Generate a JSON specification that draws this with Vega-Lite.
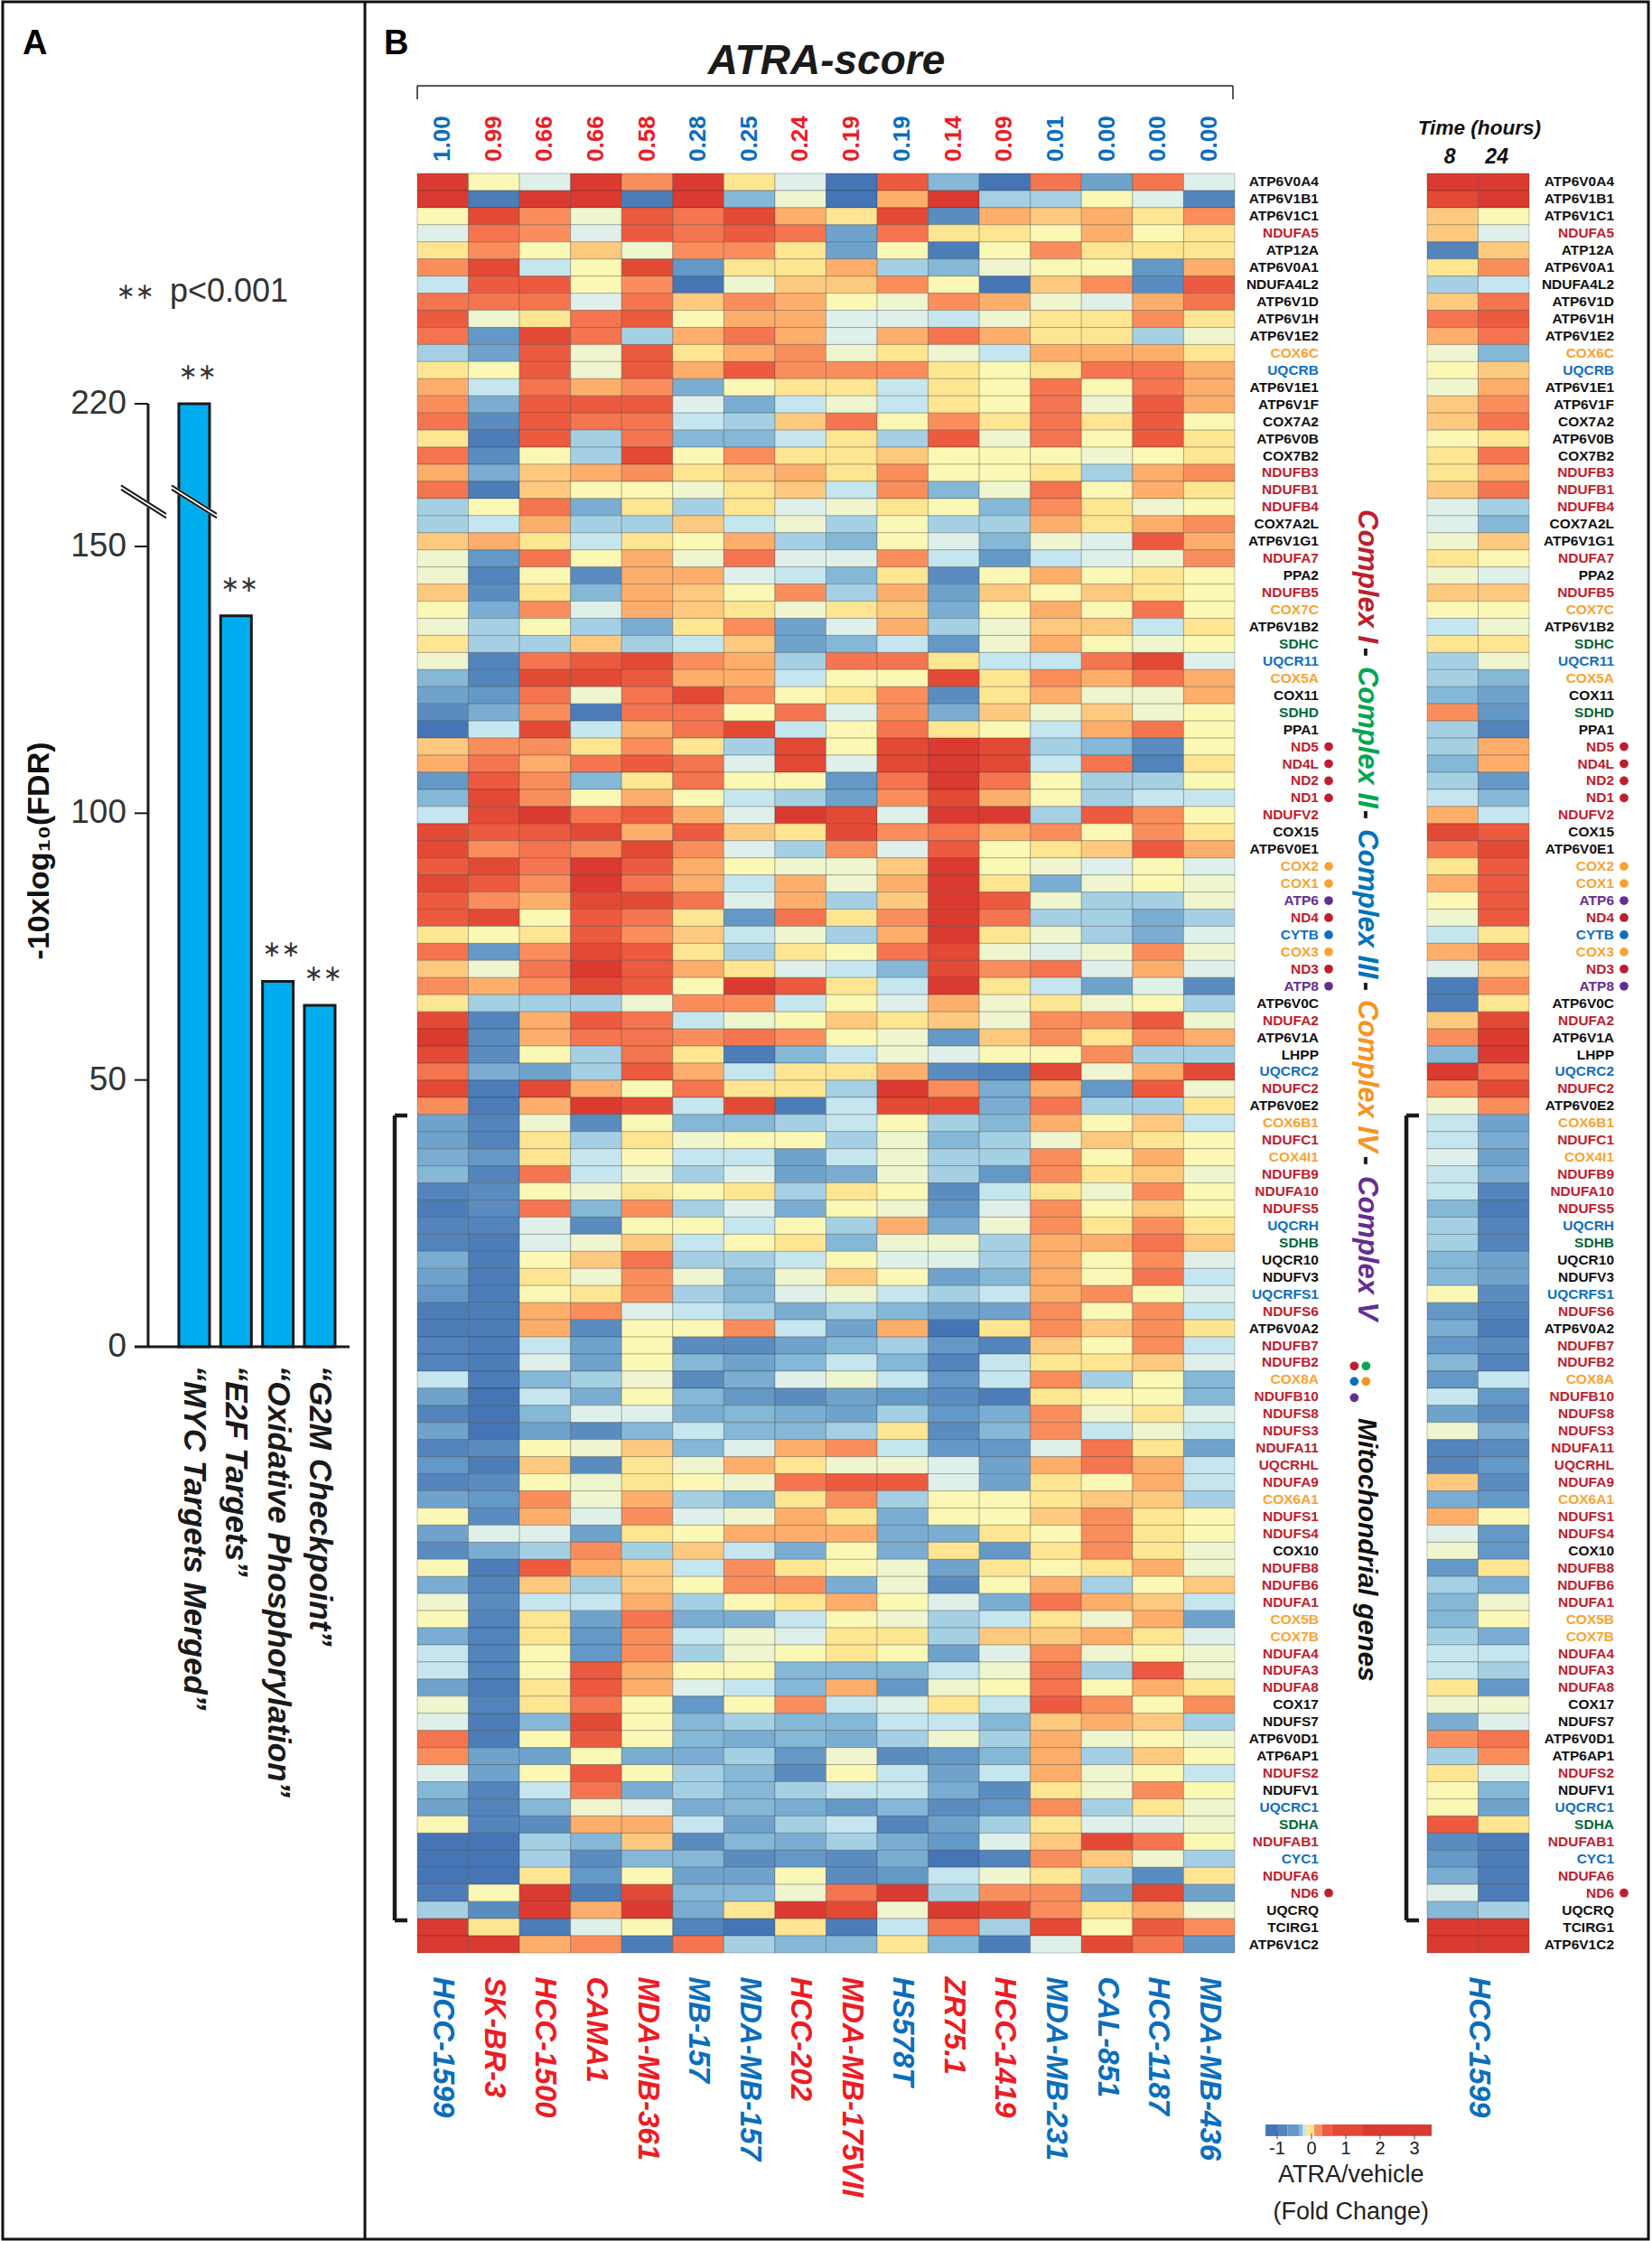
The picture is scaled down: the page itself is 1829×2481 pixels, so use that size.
{"$schema":"https://vega.github.io/schema/vega-lite/v6.json","width":1829,"height":2481,"autosize":{"type":"fit","contains":"padding"},"padding":0,"background":"white","config":{"view":{"stroke":null},"axis":{"disable":true},"legend":{"disable":true},"text":{"font":"Liberation Sans"}},
"resolve":{"scale":{"x":"independent","y":"independent","color":"independent"}},
"data":{"values":[{"one":1}]},
"datasets":{
"heat":[
{"r":1,"c":1,"v":30},{"r":1,"c":2,"v":0},{"r":1,"c":3,"v":-2},{"r":1,"c":4,"v":30},{"r":1,"c":5,"v":4},{"r":1,"c":6,"v":30},{"r":1,"c":7,"v":1},{"r":1,"c":8,"v":-2},{"r":1,"c":9,"v":-12},{"r":1,"c":10,"v":7},{"r":1,"c":11,"v":-5},{"r":1,"c":12,"v":-12},{"r":1,"c":13,"v":5},{"r":1,"c":14,"v":-7},{"r":1,"c":15,"v":5},{"r":1,"c":16,"v":-2},
{"r":2,"c":1,"v":30},{"r":2,"c":2,"v":-11},{"r":2,"c":3,"v":30},{"r":2,"c":4,"v":30},{"r":2,"c":5,"v":-11},{"r":2,"c":6,"v":30},{"r":2,"c":7,"v":-5},{"r":2,"c":8,"v":-1},{"r":2,"c":9,"v":-12},{"r":2,"c":10,"v":3},{"r":2,"c":11,"v":30},{"r":2,"c":12,"v":-4},{"r":2,"c":13,"v":-4},{"r":2,"c":14,"v":0},{"r":2,"c":15,"v":-2},{"r":2,"c":16,"v":-10},
{"r":3,"c":1,"v":0},{"r":3,"c":2,"v":10},{"r":3,"c":3,"v":4},{"r":3,"c":4,"v":-1},{"r":3,"c":5,"v":7},{"r":3,"c":6,"v":5},{"r":3,"c":7,"v":10},{"r":3,"c":8,"v":3},{"r":3,"c":9,"v":1},{"r":3,"c":10,"v":10},{"r":3,"c":11,"v":-9},{"r":3,"c":12,"v":3},{"r":3,"c":13,"v":2},{"r":3,"c":14,"v":3},{"r":3,"c":15,"v":1},{"r":3,"c":16,"v":4},
{"r":4,"c":1,"v":-2},{"r":4,"c":2,"v":5},{"r":4,"c":3,"v":4},{"r":4,"c":4,"v":-2},{"r":4,"c":5,"v":7},{"r":4,"c":6,"v":5},{"r":4,"c":7,"v":7},{"r":4,"c":8,"v":5},{"r":4,"c":9,"v":-7},{"r":4,"c":10,"v":5},{"r":4,"c":11,"v":1},{"r":4,"c":12,"v":1},{"r":4,"c":13,"v":0},{"r":4,"c":14,"v":3},{"r":4,"c":15,"v":0},{"r":4,"c":16,"v":1},
{"r":5,"c":1,"v":1},{"r":5,"c":2,"v":4},{"r":5,"c":3,"v":0},{"r":5,"c":4,"v":2},{"r":5,"c":5,"v":-1},{"r":5,"c":6,"v":4},{"r":5,"c":7,"v":4},{"r":5,"c":8,"v":1},{"r":5,"c":9,"v":-7},{"r":5,"c":10,"v":0},{"r":5,"c":11,"v":-11},{"r":5,"c":12,"v":0},{"r":5,"c":13,"v":4},{"r":5,"c":14,"v":1},{"r":5,"c":15,"v":1},{"r":5,"c":16,"v":1},
{"r":6,"c":1,"v":4},{"r":6,"c":2,"v":10},{"r":6,"c":3,"v":-3},{"r":6,"c":4,"v":0},{"r":6,"c":5,"v":10},{"r":6,"c":6,"v":-8},{"r":6,"c":7,"v":1},{"r":6,"c":8,"v":1},{"r":6,"c":9,"v":3},{"r":6,"c":10,"v":-4},{"r":6,"c":11,"v":-5},{"r":6,"c":12,"v":-1},{"r":6,"c":13,"v":0},{"r":6,"c":14,"v":0},{"r":6,"c":15,"v":-8},{"r":6,"c":16,"v":3},
{"r":7,"c":1,"v":-3},{"r":7,"c":2,"v":7},{"r":7,"c":3,"v":7},{"r":7,"c":4,"v":0},{"r":7,"c":5,"v":4},{"r":7,"c":6,"v":-12},{"r":7,"c":7,"v":-1},{"r":7,"c":8,"v":2},{"r":7,"c":9,"v":2},{"r":7,"c":10,"v":4},{"r":7,"c":11,"v":0},{"r":7,"c":12,"v":-12},{"r":7,"c":13,"v":2},{"r":7,"c":14,"v":4},{"r":7,"c":15,"v":-9},{"r":7,"c":16,"v":7},
{"r":8,"c":1,"v":5},{"r":8,"c":2,"v":5},{"r":8,"c":3,"v":5},{"r":8,"c":4,"v":-2},{"r":8,"c":5,"v":5},{"r":8,"c":6,"v":2},{"r":8,"c":7,"v":4},{"r":8,"c":8,"v":3},{"r":8,"c":9,"v":0},{"r":8,"c":10,"v":-1},{"r":8,"c":11,"v":4},{"r":8,"c":12,"v":3},{"r":8,"c":13,"v":-1},{"r":8,"c":14,"v":-2},{"r":8,"c":15,"v":3},{"r":8,"c":16,"v":5},
{"r":9,"c":1,"v":7},{"r":9,"c":2,"v":-1},{"r":9,"c":3,"v":1},{"r":9,"c":4,"v":5},{"r":9,"c":5,"v":7},{"r":9,"c":6,"v":0},{"r":9,"c":7,"v":3},{"r":9,"c":8,"v":3},{"r":9,"c":9,"v":-2},{"r":9,"c":10,"v":-2},{"r":9,"c":11,"v":-3},{"r":9,"c":12,"v":-1},{"r":9,"c":13,"v":1},{"r":9,"c":14,"v":1},{"r":9,"c":15,"v":4},{"r":9,"c":16,"v":1},
{"r":10,"c":1,"v":5},{"r":10,"c":2,"v":-8},{"r":10,"c":3,"v":10},{"r":10,"c":4,"v":5},{"r":10,"c":5,"v":-4},{"r":10,"c":6,"v":3},{"r":10,"c":7,"v":5},{"r":10,"c":8,"v":3},{"r":10,"c":9,"v":-2},{"r":10,"c":10,"v":3},{"r":10,"c":11,"v":5},{"r":10,"c":12,"v":3},{"r":10,"c":13,"v":1},{"r":10,"c":14,"v":1},{"r":10,"c":15,"v":-4},{"r":10,"c":16,"v":-1},
{"r":11,"c":1,"v":-4},{"r":11,"c":2,"v":-7},{"r":11,"c":3,"v":7},{"r":11,"c":4,"v":-1},{"r":11,"c":5,"v":7},{"r":11,"c":6,"v":1},{"r":11,"c":7,"v":3},{"r":11,"c":8,"v":4},{"r":11,"c":9,"v":-1},{"r":11,"c":10,"v":1},{"r":11,"c":11,"v":-1},{"r":11,"c":12,"v":-3},{"r":11,"c":13,"v":3},{"r":11,"c":14,"v":3},{"r":11,"c":15,"v":3},{"r":11,"c":16,"v":1},
{"r":12,"c":1,"v":1},{"r":12,"c":2,"v":0},{"r":12,"c":3,"v":7},{"r":12,"c":4,"v":-1},{"r":12,"c":5,"v":7},{"r":12,"c":6,"v":3},{"r":12,"c":7,"v":7},{"r":12,"c":8,"v":4},{"r":12,"c":9,"v":4},{"r":12,"c":10,"v":4},{"r":12,"c":11,"v":1},{"r":12,"c":12,"v":0},{"r":12,"c":13,"v":1},{"r":12,"c":14,"v":5},{"r":12,"c":15,"v":5},{"r":12,"c":16,"v":3},
{"r":13,"c":1,"v":3},{"r":13,"c":2,"v":-3},{"r":13,"c":3,"v":5},{"r":13,"c":4,"v":3},{"r":13,"c":5,"v":4},{"r":13,"c":6,"v":-6},{"r":13,"c":7,"v":0},{"r":13,"c":8,"v":1},{"r":13,"c":9,"v":1},{"r":13,"c":10,"v":-3},{"r":13,"c":11,"v":1},{"r":13,"c":12,"v":0},{"r":13,"c":13,"v":5},{"r":13,"c":14,"v":0},{"r":13,"c":15,"v":5},{"r":13,"c":16,"v":3},
{"r":14,"c":1,"v":4},{"r":14,"c":2,"v":-6},{"r":14,"c":3,"v":7},{"r":14,"c":4,"v":7},{"r":14,"c":5,"v":7},{"r":14,"c":6,"v":-2},{"r":14,"c":7,"v":-6},{"r":14,"c":8,"v":-3},{"r":14,"c":9,"v":-1},{"r":14,"c":10,"v":-3},{"r":14,"c":11,"v":1},{"r":14,"c":12,"v":0},{"r":14,"c":13,"v":5},{"r":14,"c":14,"v":-1},{"r":14,"c":15,"v":7},{"r":14,"c":16,"v":3},
{"r":15,"c":1,"v":5},{"r":15,"c":2,"v":-9},{"r":15,"c":3,"v":7},{"r":15,"c":4,"v":5},{"r":15,"c":5,"v":5},{"r":15,"c":6,"v":-3},{"r":15,"c":7,"v":-4},{"r":15,"c":8,"v":2},{"r":15,"c":9,"v":5},{"r":15,"c":10,"v":0},{"r":15,"c":11,"v":4},{"r":15,"c":12,"v":1},{"r":15,"c":13,"v":5},{"r":15,"c":14,"v":1},{"r":15,"c":15,"v":7},{"r":15,"c":16,"v":0},
{"r":16,"c":1,"v":1},{"r":16,"c":2,"v":-11},{"r":16,"c":3,"v":7},{"r":16,"c":4,"v":-4},{"r":16,"c":5,"v":5},{"r":16,"c":6,"v":-5},{"r":16,"c":7,"v":-5},{"r":16,"c":8,"v":-3},{"r":16,"c":9,"v":1},{"r":16,"c":10,"v":-4},{"r":16,"c":11,"v":7},{"r":16,"c":12,"v":-1},{"r":16,"c":13,"v":5},{"r":16,"c":14,"v":0},{"r":16,"c":15,"v":7},{"r":16,"c":16,"v":1},
{"r":17,"c":1,"v":5},{"r":17,"c":2,"v":-9},{"r":17,"c":3,"v":0},{"r":17,"c":4,"v":-4},{"r":17,"c":5,"v":10},{"r":17,"c":6,"v":0},{"r":17,"c":7,"v":4},{"r":17,"c":8,"v":1},{"r":17,"c":9,"v":1},{"r":17,"c":10,"v":2},{"r":17,"c":11,"v":0},{"r":17,"c":12,"v":0},{"r":17,"c":13,"v":0},{"r":17,"c":14,"v":-1},{"r":17,"c":15,"v":0},{"r":17,"c":16,"v":1},
{"r":18,"c":1,"v":3},{"r":18,"c":2,"v":-6},{"r":18,"c":3,"v":2},{"r":18,"c":4,"v":3},{"r":18,"c":5,"v":4},{"r":18,"c":6,"v":1},{"r":18,"c":7,"v":2},{"r":18,"c":8,"v":3},{"r":18,"c":9,"v":1},{"r":18,"c":10,"v":4},{"r":18,"c":11,"v":0},{"r":18,"c":12,"v":0},{"r":18,"c":13,"v":1},{"r":18,"c":14,"v":-4},{"r":18,"c":15,"v":3},{"r":18,"c":16,"v":4},
{"r":19,"c":1,"v":5},{"r":19,"c":2,"v":-11},{"r":19,"c":3,"v":2},{"r":19,"c":4,"v":0},{"r":19,"c":5,"v":0},{"r":19,"c":6,"v":-1},{"r":19,"c":7,"v":1},{"r":19,"c":8,"v":2},{"r":19,"c":9,"v":-3},{"r":19,"c":10,"v":4},{"r":19,"c":11,"v":-5},{"r":19,"c":12,"v":-1},{"r":19,"c":13,"v":5},{"r":19,"c":14,"v":0},{"r":19,"c":15,"v":3},{"r":19,"c":16,"v":1},
{"r":20,"c":1,"v":-4},{"r":20,"c":2,"v":0},{"r":20,"c":3,"v":5},{"r":20,"c":4,"v":-6},{"r":20,"c":5,"v":1},{"r":20,"c":6,"v":-4},{"r":20,"c":7,"v":1},{"r":20,"c":8,"v":-2},{"r":20,"c":9,"v":-1},{"r":20,"c":10,"v":1},{"r":20,"c":11,"v":0},{"r":20,"c":12,"v":-5},{"r":20,"c":13,"v":4},{"r":20,"c":14,"v":1},{"r":20,"c":15,"v":-1},{"r":20,"c":16,"v":0},
{"r":21,"c":1,"v":-4},{"r":21,"c":2,"v":-3},{"r":21,"c":3,"v":3},{"r":21,"c":4,"v":-4},{"r":21,"c":5,"v":-4},{"r":21,"c":6,"v":2},{"r":21,"c":7,"v":-3},{"r":21,"c":8,"v":-1},{"r":21,"c":9,"v":-4},{"r":21,"c":10,"v":0},{"r":21,"c":11,"v":-4},{"r":21,"c":12,"v":-4},{"r":21,"c":13,"v":3},{"r":21,"c":14,"v":1},{"r":21,"c":15,"v":3},{"r":21,"c":16,"v":4},
{"r":22,"c":1,"v":2},{"r":22,"c":2,"v":3},{"r":22,"c":3,"v":1},{"r":22,"c":4,"v":-3},{"r":22,"c":5,"v":1},{"r":22,"c":6,"v":0},{"r":22,"c":7,"v":3},{"r":22,"c":8,"v":-4},{"r":22,"c":9,"v":-5},{"r":22,"c":10,"v":0},{"r":22,"c":11,"v":-2},{"r":22,"c":12,"v":-5},{"r":22,"c":13,"v":-1},{"r":22,"c":14,"v":-2},{"r":22,"c":15,"v":7},{"r":22,"c":16,"v":3},
{"r":23,"c":1,"v":-1},{"r":23,"c":2,"v":-8},{"r":23,"c":3,"v":5},{"r":23,"c":4,"v":0},{"r":23,"c":5,"v":3},{"r":23,"c":6,"v":-1},{"r":23,"c":7,"v":5},{"r":23,"c":8,"v":-2},{"r":23,"c":9,"v":-2},{"r":23,"c":10,"v":4},{"r":23,"c":11,"v":-3},{"r":23,"c":12,"v":-8},{"r":23,"c":13,"v":-3},{"r":23,"c":14,"v":-2},{"r":23,"c":15,"v":-1},{"r":23,"c":16,"v":4},
{"r":24,"c":1,"v":-1},{"r":24,"c":2,"v":-10},{"r":24,"c":3,"v":0},{"r":24,"c":4,"v":-9},{"r":24,"c":5,"v":3},{"r":24,"c":6,"v":3},{"r":24,"c":7,"v":-2},{"r":24,"c":8,"v":-3},{"r":24,"c":9,"v":-5},{"r":24,"c":10,"v":1},{"r":24,"c":11,"v":-9},{"r":24,"c":12,"v":0},{"r":24,"c":13,"v":3},{"r":24,"c":14,"v":0},{"r":24,"c":15,"v":1},{"r":24,"c":16,"v":0},
{"r":25,"c":1,"v":2},{"r":25,"c":2,"v":-9},{"r":25,"c":3,"v":1},{"r":25,"c":4,"v":-5},{"r":25,"c":5,"v":3},{"r":25,"c":6,"v":2},{"r":25,"c":7,"v":0},{"r":25,"c":8,"v":4},{"r":25,"c":9,"v":-4},{"r":25,"c":10,"v":3},{"r":25,"c":11,"v":-7},{"r":25,"c":12,"v":2},{"r":25,"c":13,"v":0},{"r":25,"c":14,"v":2},{"r":25,"c":15,"v":1},{"r":25,"c":16,"v":0},
{"r":26,"c":1,"v":0},{"r":26,"c":2,"v":-6},{"r":26,"c":3,"v":4},{"r":26,"c":4,"v":-2},{"r":26,"c":5,"v":3},{"r":26,"c":6,"v":2},{"r":26,"c":7,"v":1},{"r":26,"c":8,"v":-1},{"r":26,"c":9,"v":1},{"r":26,"c":10,"v":2},{"r":26,"c":11,"v":-6},{"r":26,"c":12,"v":0},{"r":26,"c":13,"v":3},{"r":26,"c":14,"v":0},{"r":26,"c":15,"v":5},{"r":26,"c":16,"v":0},
{"r":27,"c":1,"v":-1},{"r":27,"c":2,"v":-4},{"r":27,"c":3,"v":0},{"r":27,"c":4,"v":-4},{"r":27,"c":5,"v":-6},{"r":27,"c":6,"v":1},{"r":27,"c":7,"v":4},{"r":27,"c":8,"v":-7},{"r":27,"c":9,"v":-2},{"r":27,"c":10,"v":3},{"r":27,"c":11,"v":-4},{"r":27,"c":12,"v":-1},{"r":27,"c":13,"v":2},{"r":27,"c":14,"v":2},{"r":27,"c":15,"v":-3},{"r":27,"c":16,"v":1},
{"r":28,"c":1,"v":1},{"r":28,"c":2,"v":-4},{"r":28,"c":3,"v":-4},{"r":28,"c":4,"v":2},{"r":28,"c":5,"v":-4},{"r":28,"c":6,"v":-3},{"r":28,"c":7,"v":2},{"r":28,"c":8,"v":-7},{"r":28,"c":9,"v":-5},{"r":28,"c":10,"v":-3},{"r":28,"c":11,"v":-8},{"r":28,"c":12,"v":-1},{"r":28,"c":13,"v":3},{"r":28,"c":14,"v":0},{"r":28,"c":15,"v":-1},{"r":28,"c":16,"v":0},
{"r":29,"c":1,"v":-1},{"r":29,"c":2,"v":-10},{"r":29,"c":3,"v":5},{"r":29,"c":4,"v":7},{"r":29,"c":5,"v":10},{"r":29,"c":6,"v":4},{"r":29,"c":7,"v":3},{"r":29,"c":8,"v":-4},{"r":29,"c":9,"v":5},{"r":29,"c":10,"v":5},{"r":29,"c":11,"v":1},{"r":29,"c":12,"v":-3},{"r":29,"c":13,"v":-3},{"r":29,"c":14,"v":5},{"r":29,"c":15,"v":10},{"r":29,"c":16,"v":-2},
{"r":30,"c":1,"v":-5},{"r":30,"c":2,"v":-10},{"r":30,"c":3,"v":10},{"r":30,"c":4,"v":10},{"r":30,"c":5,"v":7},{"r":30,"c":6,"v":3},{"r":30,"c":7,"v":3},{"r":30,"c":8,"v":-3},{"r":30,"c":9,"v":0},{"r":30,"c":10,"v":0},{"r":30,"c":11,"v":10},{"r":30,"c":12,"v":1},{"r":30,"c":13,"v":4},{"r":30,"c":14,"v":3},{"r":30,"c":15,"v":5},{"r":30,"c":16,"v":3},
{"r":31,"c":1,"v":-7},{"r":31,"c":2,"v":-8},{"r":31,"c":3,"v":5},{"r":31,"c":4,"v":-1},{"r":31,"c":5,"v":5},{"r":31,"c":6,"v":10},{"r":31,"c":7,"v":4},{"r":31,"c":8,"v":0},{"r":31,"c":9,"v":1},{"r":31,"c":10,"v":4},{"r":31,"c":11,"v":-9},{"r":31,"c":12,"v":1},{"r":31,"c":13,"v":3},{"r":31,"c":14,"v":-1},{"r":31,"c":15,"v":-1},{"r":31,"c":16,"v":3},
{"r":32,"c":1,"v":-9},{"r":32,"c":2,"v":-6},{"r":32,"c":3,"v":4},{"r":32,"c":4,"v":-11},{"r":32,"c":5,"v":5},{"r":32,"c":6,"v":5},{"r":32,"c":7,"v":0},{"r":32,"c":8,"v":5},{"r":32,"c":9,"v":-2},{"r":32,"c":10,"v":4},{"r":32,"c":11,"v":-6},{"r":32,"c":12,"v":2},{"r":32,"c":13,"v":-1},{"r":32,"c":14,"v":2},{"r":32,"c":15,"v":-1},{"r":32,"c":16,"v":0},
{"r":33,"c":1,"v":-12},{"r":33,"c":2,"v":-3},{"r":33,"c":3,"v":10},{"r":33,"c":4,"v":-3},{"r":33,"c":5,"v":3},{"r":33,"c":6,"v":5},{"r":33,"c":7,"v":10},{"r":33,"c":8,"v":-3},{"r":33,"c":9,"v":0},{"r":33,"c":10,"v":5},{"r":33,"c":11,"v":1},{"r":33,"c":12,"v":0},{"r":33,"c":13,"v":-3},{"r":33,"c":14,"v":3},{"r":33,"c":15,"v":5},{"r":33,"c":16,"v":0},
{"r":34,"c":1,"v":2},{"r":34,"c":2,"v":4},{"r":34,"c":3,"v":4},{"r":34,"c":4,"v":1},{"r":34,"c":5,"v":4},{"r":34,"c":6,"v":1},{"r":34,"c":7,"v":-4},{"r":34,"c":8,"v":10},{"r":34,"c":9,"v":0},{"r":34,"c":10,"v":10},{"r":34,"c":11,"v":30},{"r":34,"c":12,"v":10},{"r":34,"c":13,"v":-4},{"r":34,"c":14,"v":-5},{"r":34,"c":15,"v":-9},{"r":34,"c":16,"v":0},
{"r":35,"c":1,"v":3},{"r":35,"c":2,"v":5},{"r":35,"c":3,"v":3},{"r":35,"c":4,"v":5},{"r":35,"c":5,"v":7},{"r":35,"c":6,"v":5},{"r":35,"c":7,"v":-2},{"r":35,"c":8,"v":10},{"r":35,"c":9,"v":-2},{"r":35,"c":10,"v":10},{"r":35,"c":11,"v":30},{"r":35,"c":12,"v":10},{"r":35,"c":13,"v":-3},{"r":35,"c":14,"v":5},{"r":35,"c":15,"v":-10},{"r":35,"c":16,"v":1},
{"r":36,"c":1,"v":-8},{"r":36,"c":2,"v":7},{"r":36,"c":3,"v":4},{"r":36,"c":4,"v":-5},{"r":36,"c":5,"v":1},{"r":36,"c":6,"v":5},{"r":36,"c":7,"v":0},{"r":36,"c":8,"v":0},{"r":36,"c":9,"v":-8},{"r":36,"c":10,"v":5},{"r":36,"c":11,"v":30},{"r":36,"c":12,"v":5},{"r":36,"c":13,"v":0},{"r":36,"c":14,"v":-4},{"r":36,"c":15,"v":-4},{"r":36,"c":16,"v":0},
{"r":37,"c":1,"v":-5},{"r":37,"c":2,"v":10},{"r":37,"c":3,"v":4},{"r":37,"c":4,"v":0},{"r":37,"c":5,"v":3},{"r":37,"c":6,"v":0},{"r":37,"c":7,"v":-3},{"r":37,"c":8,"v":-4},{"r":37,"c":9,"v":-7},{"r":37,"c":10,"v":4},{"r":37,"c":11,"v":10},{"r":37,"c":12,"v":3},{"r":37,"c":13,"v":0},{"r":37,"c":14,"v":-4},{"r":37,"c":15,"v":-3},{"r":37,"c":16,"v":-3},
{"r":38,"c":1,"v":-3},{"r":38,"c":2,"v":10},{"r":38,"c":3,"v":30},{"r":38,"c":4,"v":5},{"r":38,"c":5,"v":7},{"r":38,"c":6,"v":3},{"r":38,"c":7,"v":-2},{"r":38,"c":8,"v":30},{"r":38,"c":9,"v":10},{"r":38,"c":10,"v":-2},{"r":38,"c":11,"v":30},{"r":38,"c":12,"v":30},{"r":38,"c":13,"v":-4},{"r":38,"c":14,"v":7},{"r":38,"c":15,"v":4},{"r":38,"c":16,"v":0},
{"r":39,"c":1,"v":10},{"r":39,"c":2,"v":7},{"r":39,"c":3,"v":7},{"r":39,"c":4,"v":10},{"r":39,"c":5,"v":3},{"r":39,"c":6,"v":7},{"r":39,"c":7,"v":2},{"r":39,"c":8,"v":1},{"r":39,"c":9,"v":10},{"r":39,"c":10,"v":4},{"r":39,"c":11,"v":5},{"r":39,"c":12,"v":3},{"r":39,"c":13,"v":4},{"r":39,"c":14,"v":0},{"r":39,"c":15,"v":4},{"r":39,"c":16,"v":1},
{"r":40,"c":1,"v":10},{"r":40,"c":2,"v":4},{"r":40,"c":3,"v":5},{"r":40,"c":4,"v":4},{"r":40,"c":5,"v":10},{"r":40,"c":6,"v":4},{"r":40,"c":7,"v":-2},{"r":40,"c":8,"v":-4},{"r":40,"c":9,"v":4},{"r":40,"c":10,"v":-2},{"r":40,"c":11,"v":7},{"r":40,"c":12,"v":0},{"r":40,"c":13,"v":1},{"r":40,"c":14,"v":2},{"r":40,"c":15,"v":7},{"r":40,"c":16,"v":3},
{"r":41,"c":1,"v":7},{"r":41,"c":2,"v":10},{"r":41,"c":3,"v":5},{"r":41,"c":4,"v":30},{"r":41,"c":5,"v":7},{"r":41,"c":6,"v":3},{"r":41,"c":7,"v":0},{"r":41,"c":8,"v":-1},{"r":41,"c":9,"v":-1},{"r":41,"c":10,"v":2},{"r":41,"c":11,"v":30},{"r":41,"c":12,"v":0},{"r":41,"c":13,"v":-1},{"r":41,"c":14,"v":-2},{"r":41,"c":15,"v":0},{"r":41,"c":16,"v":-2},
{"r":42,"c":1,"v":10},{"r":42,"c":2,"v":7},{"r":42,"c":3,"v":4},{"r":42,"c":4,"v":30},{"r":42,"c":5,"v":5},{"r":42,"c":6,"v":3},{"r":42,"c":7,"v":-3},{"r":42,"c":8,"v":3},{"r":42,"c":9,"v":-1},{"r":42,"c":10,"v":3},{"r":42,"c":11,"v":30},{"r":42,"c":12,"v":1},{"r":42,"c":13,"v":-6},{"r":42,"c":14,"v":-1},{"r":42,"c":15,"v":0},{"r":42,"c":16,"v":-1},
{"r":43,"c":1,"v":7},{"r":43,"c":2,"v":4},{"r":43,"c":3,"v":3},{"r":43,"c":4,"v":10},{"r":43,"c":5,"v":10},{"r":43,"c":6,"v":5},{"r":43,"c":7,"v":-2},{"r":43,"c":8,"v":3},{"r":43,"c":9,"v":-4},{"r":43,"c":10,"v":2},{"r":43,"c":11,"v":30},{"r":43,"c":12,"v":7},{"r":43,"c":13,"v":-1},{"r":43,"c":14,"v":-4},{"r":43,"c":15,"v":-4},{"r":43,"c":16,"v":-1},
{"r":44,"c":1,"v":7},{"r":44,"c":2,"v":10},{"r":44,"c":3,"v":0},{"r":44,"c":4,"v":7},{"r":44,"c":5,"v":5},{"r":44,"c":6,"v":1},{"r":44,"c":7,"v":-8},{"r":44,"c":8,"v":5},{"r":44,"c":9,"v":1},{"r":44,"c":10,"v":4},{"r":44,"c":11,"v":30},{"r":44,"c":12,"v":5},{"r":44,"c":13,"v":-4},{"r":44,"c":14,"v":-4},{"r":44,"c":15,"v":-6},{"r":44,"c":16,"v":-4},
{"r":45,"c":1,"v":1},{"r":45,"c":2,"v":0},{"r":45,"c":3,"v":1},{"r":45,"c":4,"v":7},{"r":45,"c":5,"v":4},{"r":45,"c":6,"v":2},{"r":45,"c":7,"v":-3},{"r":45,"c":8,"v":-1},{"r":45,"c":9,"v":-4},{"r":45,"c":10,"v":3},{"r":45,"c":11,"v":30},{"r":45,"c":12,"v":1},{"r":45,"c":13,"v":-1},{"r":45,"c":14,"v":-4},{"r":45,"c":15,"v":-6},{"r":45,"c":16,"v":-2},
{"r":46,"c":1,"v":5},{"r":46,"c":2,"v":-8},{"r":46,"c":3,"v":4},{"r":46,"c":4,"v":10},{"r":46,"c":5,"v":7},{"r":46,"c":6,"v":1},{"r":46,"c":7,"v":-4},{"r":46,"c":8,"v":1},{"r":46,"c":9,"v":0},{"r":46,"c":10,"v":5},{"r":46,"c":11,"v":10},{"r":46,"c":12,"v":-1},{"r":46,"c":13,"v":-2},{"r":46,"c":14,"v":-1},{"r":46,"c":15,"v":4},{"r":46,"c":16,"v":-1},
{"r":47,"c":1,"v":2},{"r":47,"c":2,"v":-1},{"r":47,"c":3,"v":5},{"r":47,"c":4,"v":30},{"r":47,"c":5,"v":7},{"r":47,"c":6,"v":3},{"r":47,"c":7,"v":1},{"r":47,"c":8,"v":-2},{"r":47,"c":9,"v":-3},{"r":47,"c":10,"v":-5},{"r":47,"c":11,"v":10},{"r":47,"c":12,"v":4},{"r":47,"c":13,"v":5},{"r":47,"c":14,"v":-2},{"r":47,"c":15,"v":3},{"r":47,"c":16,"v":-2},
{"r":48,"c":1,"v":4},{"r":48,"c":2,"v":3},{"r":48,"c":3,"v":4},{"r":48,"c":4,"v":10},{"r":48,"c":5,"v":7},{"r":48,"c":6,"v":0},{"r":48,"c":7,"v":30},{"r":48,"c":8,"v":7},{"r":48,"c":9,"v":1},{"r":48,"c":10,"v":-3},{"r":48,"c":11,"v":30},{"r":48,"c":12,"v":1},{"r":48,"c":13,"v":-3},{"r":48,"c":14,"v":-7},{"r":48,"c":15,"v":-2},{"r":48,"c":16,"v":-9},
{"r":49,"c":1,"v":1},{"r":49,"c":2,"v":-4},{"r":49,"c":3,"v":-4},{"r":49,"c":4,"v":-4},{"r":49,"c":5,"v":-1},{"r":49,"c":6,"v":4},{"r":49,"c":7,"v":4},{"r":49,"c":8,"v":-3},{"r":49,"c":9,"v":0},{"r":49,"c":10,"v":-2},{"r":49,"c":11,"v":3},{"r":49,"c":12,"v":-1},{"r":49,"c":13,"v":1},{"r":49,"c":14,"v":-1},{"r":49,"c":15,"v":0},{"r":49,"c":16,"v":-4},
{"r":50,"c":1,"v":10},{"r":50,"c":2,"v":-10},{"r":50,"c":3,"v":3},{"r":50,"c":4,"v":7},{"r":50,"c":5,"v":5},{"r":50,"c":6,"v":-3},{"r":50,"c":7,"v":-1},{"r":50,"c":8,"v":0},{"r":50,"c":9,"v":2},{"r":50,"c":10,"v":1},{"r":50,"c":11,"v":2},{"r":50,"c":12,"v":-1},{"r":50,"c":13,"v":4},{"r":50,"c":14,"v":4},{"r":50,"c":15,"v":7},{"r":50,"c":16,"v":-1},
{"r":51,"c":1,"v":30},{"r":51,"c":2,"v":-9},{"r":51,"c":3,"v":3},{"r":51,"c":4,"v":5},{"r":51,"c":5,"v":5},{"r":51,"c":6,"v":4},{"r":51,"c":7,"v":5},{"r":51,"c":8,"v":4},{"r":51,"c":9,"v":0},{"r":51,"c":10,"v":-1},{"r":51,"c":11,"v":-8},{"r":51,"c":12,"v":2},{"r":51,"c":13,"v":4},{"r":51,"c":14,"v":1},{"r":51,"c":15,"v":4},{"r":51,"c":16,"v":3},
{"r":52,"c":1,"v":10},{"r":52,"c":2,"v":-9},{"r":52,"c":3,"v":0},{"r":52,"c":4,"v":-4},{"r":52,"c":5,"v":5},{"r":52,"c":6,"v":1},{"r":52,"c":7,"v":-11},{"r":52,"c":8,"v":-5},{"r":52,"c":9,"v":-3},{"r":52,"c":10,"v":-1},{"r":52,"c":11,"v":-2},{"r":52,"c":12,"v":0},{"r":52,"c":13,"v":0},{"r":52,"c":14,"v":4},{"r":52,"c":15,"v":-4},{"r":52,"c":16,"v":-4},
{"r":53,"c":1,"v":5},{"r":53,"c":2,"v":-6},{"r":53,"c":3,"v":-7},{"r":53,"c":4,"v":-4},{"r":53,"c":5,"v":7},{"r":53,"c":6,"v":3},{"r":53,"c":7,"v":-3},{"r":53,"c":8,"v":1},{"r":53,"c":9,"v":1},{"r":53,"c":10,"v":3},{"r":53,"c":11,"v":-9},{"r":53,"c":12,"v":-10},{"r":53,"c":13,"v":10},{"r":53,"c":14,"v":-1},{"r":53,"c":15,"v":3},{"r":53,"c":16,"v":10},
{"r":54,"c":1,"v":10},{"r":54,"c":2,"v":-11},{"r":54,"c":3,"v":10},{"r":54,"c":4,"v":3},{"r":54,"c":5,"v":0},{"r":54,"c":6,"v":5},{"r":54,"c":7,"v":1},{"r":54,"c":8,"v":1},{"r":54,"c":9,"v":-4},{"r":54,"c":10,"v":30},{"r":54,"c":11,"v":4},{"r":54,"c":12,"v":-6},{"r":54,"c":13,"v":3},{"r":54,"c":14,"v":-8},{"r":54,"c":15,"v":7},{"r":54,"c":16,"v":-1},
{"r":55,"c":1,"v":4},{"r":55,"c":2,"v":-11},{"r":55,"c":3,"v":3},{"r":55,"c":4,"v":30},{"r":55,"c":5,"v":10},{"r":55,"c":6,"v":-3},{"r":55,"c":7,"v":10},{"r":55,"c":8,"v":-11},{"r":55,"c":9,"v":-3},{"r":55,"c":10,"v":10},{"r":55,"c":11,"v":10},{"r":55,"c":12,"v":-6},{"r":55,"c":13,"v":5},{"r":55,"c":14,"v":-4},{"r":55,"c":15,"v":-4},{"r":55,"c":16,"v":1},
{"r":56,"c":1,"v":-7},{"r":56,"c":2,"v":-10},{"r":56,"c":3,"v":-1},{"r":56,"c":4,"v":-9},{"r":56,"c":5,"v":0},{"r":56,"c":6,"v":-5},{"r":56,"c":7,"v":-5},{"r":56,"c":8,"v":-4},{"r":56,"c":9,"v":-3},{"r":56,"c":10,"v":0},{"r":56,"c":11,"v":-4},{"r":56,"c":12,"v":-5},{"r":56,"c":13,"v":3},{"r":56,"c":14,"v":0},{"r":56,"c":15,"v":2},{"r":56,"c":16,"v":-3},
{"r":57,"c":1,"v":-7},{"r":57,"c":2,"v":-10},{"r":57,"c":3,"v":1},{"r":57,"c":4,"v":-4},{"r":57,"c":5,"v":1},{"r":57,"c":6,"v":-1},{"r":57,"c":7,"v":0},{"r":57,"c":8,"v":0},{"r":57,"c":9,"v":-4},{"r":57,"c":10,"v":-1},{"r":57,"c":11,"v":-5},{"r":57,"c":12,"v":-4},{"r":57,"c":13,"v":-1},{"r":57,"c":14,"v":2},{"r":57,"c":15,"v":1},{"r":57,"c":16,"v":0},
{"r":58,"c":1,"v":-6},{"r":58,"c":2,"v":-8},{"r":58,"c":3,"v":1},{"r":58,"c":4,"v":-3},{"r":58,"c":5,"v":0},{"r":58,"c":6,"v":-3},{"r":58,"c":7,"v":-3},{"r":58,"c":8,"v":-7},{"r":58,"c":9,"v":-3},{"r":58,"c":10,"v":-1},{"r":58,"c":11,"v":-4},{"r":58,"c":12,"v":-4},{"r":58,"c":13,"v":4},{"r":58,"c":14,"v":0},{"r":58,"c":15,"v":3},{"r":58,"c":16,"v":0},
{"r":59,"c":1,"v":-5},{"r":59,"c":2,"v":-10},{"r":59,"c":3,"v":5},{"r":59,"c":4,"v":-3},{"r":59,"c":5,"v":-1},{"r":59,"c":6,"v":-4},{"r":59,"c":7,"v":-2},{"r":59,"c":8,"v":-7},{"r":59,"c":9,"v":-6},{"r":59,"c":10,"v":-1},{"r":59,"c":11,"v":-4},{"r":59,"c":12,"v":-8},{"r":59,"c":13,"v":4},{"r":59,"c":14,"v":1},{"r":59,"c":15,"v":2},{"r":59,"c":16,"v":-1},
{"r":60,"c":1,"v":-10},{"r":60,"c":2,"v":-9},{"r":60,"c":3,"v":0},{"r":60,"c":4,"v":-1},{"r":60,"c":5,"v":1},{"r":60,"c":6,"v":0},{"r":60,"c":7,"v":1},{"r":60,"c":8,"v":-4},{"r":60,"c":9,"v":1},{"r":60,"c":10,"v":0},{"r":60,"c":11,"v":-9},{"r":60,"c":12,"v":-3},{"r":60,"c":13,"v":1},{"r":60,"c":14,"v":-1},{"r":60,"c":15,"v":4},{"r":60,"c":16,"v":0},
{"r":61,"c":1,"v":-11},{"r":61,"c":2,"v":-9},{"r":61,"c":3,"v":5},{"r":61,"c":4,"v":-5},{"r":61,"c":5,"v":4},{"r":61,"c":6,"v":-4},{"r":61,"c":7,"v":-2},{"r":61,"c":8,"v":-6},{"r":61,"c":9,"v":0},{"r":61,"c":10,"v":-1},{"r":61,"c":11,"v":-8},{"r":61,"c":12,"v":-2},{"r":61,"c":13,"v":4},{"r":61,"c":14,"v":0},{"r":61,"c":15,"v":2},{"r":61,"c":16,"v":0},
{"r":62,"c":1,"v":-10},{"r":62,"c":2,"v":-10},{"r":62,"c":3,"v":-2},{"r":62,"c":4,"v":-9},{"r":62,"c":5,"v":0},{"r":62,"c":6,"v":0},{"r":62,"c":7,"v":-3},{"r":62,"c":8,"v":0},{"r":62,"c":9,"v":-4},{"r":62,"c":10,"v":3},{"r":62,"c":11,"v":-6},{"r":62,"c":12,"v":-1},{"r":62,"c":13,"v":4},{"r":62,"c":14,"v":1},{"r":62,"c":15,"v":4},{"r":62,"c":16,"v":1},
{"r":63,"c":1,"v":-10},{"r":63,"c":2,"v":-11},{"r":63,"c":3,"v":-2},{"r":63,"c":4,"v":-1},{"r":63,"c":5,"v":2},{"r":63,"c":6,"v":-3},{"r":63,"c":7,"v":0},{"r":63,"c":8,"v":1},{"r":63,"c":9,"v":-5},{"r":63,"c":10,"v":-1},{"r":63,"c":11,"v":-1},{"r":63,"c":12,"v":-4},{"r":63,"c":13,"v":3},{"r":63,"c":14,"v":3},{"r":63,"c":15,"v":5},{"r":63,"c":16,"v":2},
{"r":64,"c":1,"v":-6},{"r":64,"c":2,"v":-11},{"r":64,"c":3,"v":0},{"r":64,"c":4,"v":2},{"r":64,"c":5,"v":5},{"r":64,"c":6,"v":-4},{"r":64,"c":7,"v":-4},{"r":64,"c":8,"v":-3},{"r":64,"c":9,"v":0},{"r":64,"c":10,"v":-2},{"r":64,"c":11,"v":-2},{"r":64,"c":12,"v":-4},{"r":64,"c":13,"v":3},{"r":64,"c":14,"v":0},{"r":64,"c":15,"v":4},{"r":64,"c":16,"v":-2},
{"r":65,"c":1,"v":-7},{"r":65,"c":2,"v":-11},{"r":65,"c":3,"v":1},{"r":65,"c":4,"v":-1},{"r":65,"c":5,"v":4},{"r":65,"c":6,"v":-1},{"r":65,"c":7,"v":-5},{"r":65,"c":8,"v":-1},{"r":65,"c":9,"v":2},{"r":65,"c":10,"v":0},{"r":65,"c":11,"v":-7},{"r":65,"c":12,"v":-5},{"r":65,"c":13,"v":3},{"r":65,"c":14,"v":0},{"r":65,"c":15,"v":5},{"r":65,"c":16,"v":-3},
{"r":66,"c":1,"v":-8},{"r":66,"c":2,"v":-11},{"r":66,"c":3,"v":0},{"r":66,"c":4,"v":1},{"r":66,"c":5,"v":4},{"r":66,"c":6,"v":-4},{"r":66,"c":7,"v":-5},{"r":66,"c":8,"v":-2},{"r":66,"c":9,"v":-1},{"r":66,"c":10,"v":-3},{"r":66,"c":11,"v":-4},{"r":66,"c":12,"v":-3},{"r":66,"c":13,"v":3},{"r":66,"c":14,"v":4},{"r":66,"c":15,"v":0},{"r":66,"c":16,"v":-2},
{"r":67,"c":1,"v":-11},{"r":67,"c":2,"v":-11},{"r":67,"c":3,"v":3},{"r":67,"c":4,"v":4},{"r":67,"c":5,"v":-2},{"r":67,"c":6,"v":-3},{"r":67,"c":7,"v":-4},{"r":67,"c":8,"v":-6},{"r":67,"c":9,"v":-4},{"r":67,"c":10,"v":-5},{"r":67,"c":11,"v":-7},{"r":67,"c":12,"v":-7},{"r":67,"c":13,"v":4},{"r":67,"c":14,"v":0},{"r":67,"c":15,"v":4},{"r":67,"c":16,"v":-3},
{"r":68,"c":1,"v":-11},{"r":68,"c":2,"v":-11},{"r":68,"c":3,"v":3},{"r":68,"c":4,"v":-9},{"r":68,"c":5,"v":0},{"r":68,"c":6,"v":0},{"r":68,"c":7,"v":4},{"r":68,"c":8,"v":-3},{"r":68,"c":9,"v":-7},{"r":68,"c":10,"v":3},{"r":68,"c":11,"v":-12},{"r":68,"c":12,"v":1},{"r":68,"c":13,"v":4},{"r":68,"c":14,"v":2},{"r":68,"c":15,"v":4},{"r":68,"c":16,"v":1},
{"r":69,"c":1,"v":-10},{"r":69,"c":2,"v":-11},{"r":69,"c":3,"v":-3},{"r":69,"c":4,"v":-7},{"r":69,"c":5,"v":0},{"r":69,"c":6,"v":-9},{"r":69,"c":7,"v":-9},{"r":69,"c":8,"v":-7},{"r":69,"c":9,"v":-5},{"r":69,"c":10,"v":-4},{"r":69,"c":11,"v":-8},{"r":69,"c":12,"v":-10},{"r":69,"c":13,"v":2},{"r":69,"c":14,"v":0},{"r":69,"c":15,"v":4},{"r":69,"c":16,"v":-3},
{"r":70,"c":1,"v":-10},{"r":70,"c":2,"v":-11},{"r":70,"c":3,"v":-2},{"r":70,"c":4,"v":-7},{"r":70,"c":5,"v":0},{"r":70,"c":6,"v":-5},{"r":70,"c":7,"v":-7},{"r":70,"c":8,"v":-5},{"r":70,"c":9,"v":-3},{"r":70,"c":10,"v":-5},{"r":70,"c":11,"v":-10},{"r":70,"c":12,"v":-3},{"r":70,"c":13,"v":1},{"r":70,"c":14,"v":1},{"r":70,"c":15,"v":2},{"r":70,"c":16,"v":-2},
{"r":71,"c":1,"v":-3},{"r":71,"c":2,"v":-11},{"r":71,"c":3,"v":-5},{"r":71,"c":4,"v":-4},{"r":71,"c":5,"v":-1},{"r":71,"c":6,"v":-9},{"r":71,"c":7,"v":-6},{"r":71,"c":8,"v":-2},{"r":71,"c":9,"v":-1},{"r":71,"c":10,"v":-3},{"r":71,"c":11,"v":-8},{"r":71,"c":12,"v":-3},{"r":71,"c":13,"v":4},{"r":71,"c":14,"v":-4},{"r":71,"c":15,"v":0},{"r":71,"c":16,"v":-5},
{"r":72,"c":1,"v":-7},{"r":72,"c":2,"v":-12},{"r":72,"c":3,"v":-3},{"r":72,"c":4,"v":-6},{"r":72,"c":5,"v":0},{"r":72,"c":6,"v":-5},{"r":72,"c":7,"v":-8},{"r":72,"c":8,"v":-9},{"r":72,"c":9,"v":-7},{"r":72,"c":10,"v":-8},{"r":72,"c":11,"v":-9},{"r":72,"c":12,"v":-11},{"r":72,"c":13,"v":1},{"r":72,"c":14,"v":0},{"r":72,"c":15,"v":0},{"r":72,"c":16,"v":-5},
{"r":73,"c":1,"v":-10},{"r":73,"c":2,"v":-12},{"r":73,"c":3,"v":-5},{"r":73,"c":4,"v":-2},{"r":73,"c":5,"v":-2},{"r":73,"c":6,"v":-6},{"r":73,"c":7,"v":-5},{"r":73,"c":8,"v":-6},{"r":73,"c":9,"v":-7},{"r":73,"c":10,"v":-4},{"r":73,"c":11,"v":-8},{"r":73,"c":12,"v":-6},{"r":73,"c":13,"v":4},{"r":73,"c":14,"v":-1},{"r":73,"c":15,"v":1},{"r":73,"c":16,"v":-2},
{"r":74,"c":1,"v":-7},{"r":74,"c":2,"v":-12},{"r":74,"c":3,"v":-7},{"r":74,"c":4,"v":-9},{"r":74,"c":5,"v":-5},{"r":74,"c":6,"v":-3},{"r":74,"c":7,"v":-5},{"r":74,"c":8,"v":-5},{"r":74,"c":9,"v":-4},{"r":74,"c":10,"v":1},{"r":74,"c":11,"v":-9},{"r":74,"c":12,"v":-5},{"r":74,"c":13,"v":4},{"r":74,"c":14,"v":-3},{"r":74,"c":15,"v":-1},{"r":74,"c":16,"v":-3},
{"r":75,"c":1,"v":-10},{"r":75,"c":2,"v":-9},{"r":75,"c":3,"v":0},{"r":75,"c":4,"v":-1},{"r":75,"c":5,"v":2},{"r":75,"c":6,"v":-5},{"r":75,"c":7,"v":-2},{"r":75,"c":8,"v":3},{"r":75,"c":9,"v":4},{"r":75,"c":10,"v":-3},{"r":75,"c":11,"v":-8},{"r":75,"c":12,"v":-8},{"r":75,"c":13,"v":-2},{"r":75,"c":14,"v":5},{"r":75,"c":15,"v":1},{"r":75,"c":16,"v":-7},
{"r":76,"c":1,"v":-8},{"r":76,"c":2,"v":-11},{"r":76,"c":3,"v":2},{"r":76,"c":4,"v":-9},{"r":76,"c":5,"v":1},{"r":76,"c":6,"v":-1},{"r":76,"c":7,"v":3},{"r":76,"c":8,"v":1},{"r":76,"c":9,"v":-1},{"r":76,"c":10,"v":-1},{"r":76,"c":11,"v":-2},{"r":76,"c":12,"v":-7},{"r":76,"c":13,"v":3},{"r":76,"c":14,"v":5},{"r":76,"c":15,"v":3},{"r":76,"c":16,"v":-3},
{"r":77,"c":1,"v":-10},{"r":77,"c":2,"v":-9},{"r":77,"c":3,"v":0},{"r":77,"c":4,"v":-1},{"r":77,"c":5,"v":1},{"r":77,"c":6,"v":0},{"r":77,"c":7,"v":-1},{"r":77,"c":8,"v":5},{"r":77,"c":9,"v":7},{"r":77,"c":10,"v":7},{"r":77,"c":11,"v":-2},{"r":77,"c":12,"v":-7},{"r":77,"c":13,"v":1},{"r":77,"c":14,"v":0},{"r":77,"c":15,"v":3},{"r":77,"c":16,"v":-3},
{"r":78,"c":1,"v":-7},{"r":78,"c":2,"v":-8},{"r":78,"c":3,"v":4},{"r":78,"c":4,"v":-1},{"r":78,"c":5,"v":3},{"r":78,"c":6,"v":-4},{"r":78,"c":7,"v":-5},{"r":78,"c":8,"v":1},{"r":78,"c":9,"v":4},{"r":78,"c":10,"v":-4},{"r":78,"c":11,"v":0},{"r":78,"c":12,"v":0},{"r":78,"c":13,"v":1},{"r":78,"c":14,"v":2},{"r":78,"c":15,"v":2},{"r":78,"c":16,"v":-4},
{"r":79,"c":1,"v":0},{"r":79,"c":2,"v":-9},{"r":79,"c":3,"v":3},{"r":79,"c":4,"v":-2},{"r":79,"c":5,"v":4},{"r":79,"c":6,"v":-2},{"r":79,"c":7,"v":-1},{"r":79,"c":8,"v":3},{"r":79,"c":9,"v":1},{"r":79,"c":10,"v":-6},{"r":79,"c":11,"v":0},{"r":79,"c":12,"v":0},{"r":79,"c":13,"v":2},{"r":79,"c":14,"v":4},{"r":79,"c":15,"v":1},{"r":79,"c":16,"v":0},
{"r":80,"c":1,"v":-7},{"r":80,"c":2,"v":-2},{"r":80,"c":3,"v":-2},{"r":80,"c":4,"v":-7},{"r":80,"c":5,"v":1},{"r":80,"c":6,"v":0},{"r":80,"c":7,"v":3},{"r":80,"c":8,"v":3},{"r":80,"c":9,"v":3},{"r":80,"c":10,"v":-6},{"r":80,"c":11,"v":-6},{"r":80,"c":12,"v":1},{"r":80,"c":13,"v":0},{"r":80,"c":14,"v":4},{"r":80,"c":15,"v":1},{"r":80,"c":16,"v":0},
{"r":81,"c":1,"v":-9},{"r":81,"c":2,"v":-6},{"r":81,"c":3,"v":-4},{"r":81,"c":4,"v":4},{"r":81,"c":5,"v":-4},{"r":81,"c":6,"v":2},{"r":81,"c":7,"v":-3},{"r":81,"c":8,"v":-6},{"r":81,"c":9,"v":0},{"r":81,"c":10,"v":-6},{"r":81,"c":11,"v":1},{"r":81,"c":12,"v":-8},{"r":81,"c":13,"v":1},{"r":81,"c":14,"v":4},{"r":81,"c":15,"v":1},{"r":81,"c":16,"v":-1},
{"r":82,"c":1,"v":0},{"r":82,"c":2,"v":-11},{"r":82,"c":3,"v":7},{"r":82,"c":4,"v":3},{"r":82,"c":5,"v":2},{"r":82,"c":6,"v":-3},{"r":82,"c":7,"v":4},{"r":82,"c":8,"v":1},{"r":82,"c":9,"v":0},{"r":82,"c":10,"v":-1},{"r":82,"c":11,"v":-7},{"r":82,"c":12,"v":1},{"r":82,"c":13,"v":0},{"r":82,"c":14,"v":1},{"r":82,"c":15,"v":3},{"r":82,"c":16,"v":-1},
{"r":83,"c":1,"v":-6},{"r":83,"c":2,"v":-10},{"r":83,"c":3,"v":2},{"r":83,"c":4,"v":-4},{"r":83,"c":5,"v":2},{"r":83,"c":6,"v":0},{"r":83,"c":7,"v":4},{"r":83,"c":8,"v":4},{"r":83,"c":9,"v":-6},{"r":83,"c":10,"v":-1},{"r":83,"c":11,"v":-9},{"r":83,"c":12,"v":0},{"r":83,"c":13,"v":3},{"r":83,"c":14,"v":-4},{"r":83,"c":15,"v":0},{"r":83,"c":16,"v":2},
{"r":84,"c":1,"v":-1},{"r":84,"c":2,"v":-9},{"r":84,"c":3,"v":-3},{"r":84,"c":4,"v":-3},{"r":84,"c":5,"v":3},{"r":84,"c":6,"v":-4},{"r":84,"c":7,"v":0},{"r":84,"c":8,"v":1},{"r":84,"c":9,"v":3},{"r":84,"c":10,"v":0},{"r":84,"c":11,"v":-2},{"r":84,"c":12,"v":-6},{"r":84,"c":13,"v":5},{"r":84,"c":14,"v":3},{"r":84,"c":15,"v":2},{"r":84,"c":16,"v":-3},
{"r":85,"c":1,"v":0},{"r":85,"c":2,"v":-10},{"r":85,"c":3,"v":1},{"r":85,"c":4,"v":-7},{"r":85,"c":5,"v":5},{"r":85,"c":6,"v":-6},{"r":85,"c":7,"v":-6},{"r":85,"c":8,"v":-3},{"r":85,"c":9,"v":0},{"r":85,"c":10,"v":-1},{"r":85,"c":11,"v":-4},{"r":85,"c":12,"v":-3},{"r":85,"c":13,"v":1},{"r":85,"c":14,"v":-1},{"r":85,"c":15,"v":3},{"r":85,"c":16,"v":-7},
{"r":86,"c":1,"v":-6},{"r":86,"c":2,"v":-10},{"r":86,"c":3,"v":1},{"r":86,"c":4,"v":-8},{"r":86,"c":5,"v":4},{"r":86,"c":6,"v":-3},{"r":86,"c":7,"v":-1},{"r":86,"c":8,"v":-2},{"r":86,"c":9,"v":1},{"r":86,"c":10,"v":1},{"r":86,"c":11,"v":-4},{"r":86,"c":12,"v":2},{"r":86,"c":13,"v":2},{"r":86,"c":14,"v":3},{"r":86,"c":15,"v":1},{"r":86,"c":16,"v":-2},
{"r":87,"c":1,"v":-3},{"r":87,"c":2,"v":-10},{"r":87,"c":3,"v":0},{"r":87,"c":4,"v":-8},{"r":87,"c":5,"v":4},{"r":87,"c":6,"v":-4},{"r":87,"c":7,"v":-1},{"r":87,"c":8,"v":0},{"r":87,"c":9,"v":1},{"r":87,"c":10,"v":0},{"r":87,"c":11,"v":-7},{"r":87,"c":12,"v":-2},{"r":87,"c":13,"v":4},{"r":87,"c":14,"v":-1},{"r":87,"c":15,"v":0},{"r":87,"c":16,"v":-1},
{"r":88,"c":1,"v":-3},{"r":88,"c":2,"v":-10},{"r":88,"c":3,"v":0},{"r":88,"c":4,"v":7},{"r":88,"c":5,"v":3},{"r":88,"c":6,"v":0},{"r":88,"c":7,"v":0},{"r":88,"c":8,"v":-5},{"r":88,"c":9,"v":-5},{"r":88,"c":10,"v":-5},{"r":88,"c":11,"v":-3},{"r":88,"c":12,"v":-1},{"r":88,"c":13,"v":5},{"r":88,"c":14,"v":-4},{"r":88,"c":15,"v":7},{"r":88,"c":16,"v":-1},
{"r":89,"c":1,"v":-7},{"r":89,"c":2,"v":-11},{"r":89,"c":3,"v":1},{"r":89,"c":4,"v":7},{"r":89,"c":5,"v":3},{"r":89,"c":6,"v":-2},{"r":89,"c":7,"v":-3},{"r":89,"c":8,"v":-5},{"r":89,"c":9,"v":3},{"r":89,"c":10,"v":-8},{"r":89,"c":11,"v":-1},{"r":89,"c":12,"v":0},{"r":89,"c":13,"v":5},{"r":89,"c":14,"v":0},{"r":89,"c":15,"v":3},{"r":89,"c":16,"v":1},
{"r":90,"c":1,"v":-1},{"r":90,"c":2,"v":-10},{"r":90,"c":3,"v":1},{"r":90,"c":4,"v":5},{"r":90,"c":5,"v":0},{"r":90,"c":6,"v":-8},{"r":90,"c":7,"v":0},{"r":90,"c":8,"v":4},{"r":90,"c":9,"v":-3},{"r":90,"c":10,"v":-2},{"r":90,"c":11,"v":1},{"r":90,"c":12,"v":-3},{"r":90,"c":13,"v":7},{"r":90,"c":14,"v":4},{"r":90,"c":15,"v":0},{"r":90,"c":16,"v":4},
{"r":91,"c":1,"v":-2},{"r":91,"c":2,"v":-11},{"r":91,"c":3,"v":-5},{"r":91,"c":4,"v":10},{"r":91,"c":5,"v":0},{"r":91,"c":6,"v":-5},{"r":91,"c":7,"v":-4},{"r":91,"c":8,"v":-5},{"r":91,"c":9,"v":-5},{"r":91,"c":10,"v":-3},{"r":91,"c":11,"v":-3},{"r":91,"c":12,"v":-5},{"r":91,"c":13,"v":2},{"r":91,"c":14,"v":3},{"r":91,"c":15,"v":2},{"r":91,"c":16,"v":-4},
{"r":92,"c":1,"v":5},{"r":92,"c":2,"v":-11},{"r":92,"c":3,"v":0},{"r":92,"c":4,"v":7},{"r":92,"c":5,"v":0},{"r":92,"c":6,"v":-5},{"r":92,"c":7,"v":-6},{"r":92,"c":8,"v":-5},{"r":92,"c":9,"v":-6},{"r":92,"c":10,"v":-4},{"r":92,"c":11,"v":-1},{"r":92,"c":12,"v":-4},{"r":92,"c":13,"v":3},{"r":92,"c":14,"v":-1},{"r":92,"c":15,"v":0},{"r":92,"c":16,"v":-1},
{"r":93,"c":1,"v":4},{"r":93,"c":2,"v":-7},{"r":93,"c":3,"v":-7},{"r":93,"c":4,"v":0},{"r":93,"c":5,"v":-6},{"r":93,"c":6,"v":-6},{"r":93,"c":7,"v":-4},{"r":93,"c":8,"v":-8},{"r":93,"c":9,"v":-1},{"r":93,"c":10,"v":-9},{"r":93,"c":11,"v":-8},{"r":93,"c":12,"v":-5},{"r":93,"c":13,"v":3},{"r":93,"c":14,"v":-4},{"r":93,"c":15,"v":2},{"r":93,"c":16,"v":0},
{"r":94,"c":1,"v":-2},{"r":94,"c":2,"v":-7},{"r":94,"c":3,"v":0},{"r":94,"c":4,"v":7},{"r":94,"c":5,"v":0},{"r":94,"c":6,"v":-4},{"r":94,"c":7,"v":-5},{"r":94,"c":8,"v":-9},{"r":94,"c":9,"v":0},{"r":94,"c":10,"v":-3},{"r":94,"c":11,"v":-7},{"r":94,"c":12,"v":-3},{"r":94,"c":13,"v":3},{"r":94,"c":14,"v":-1},{"r":94,"c":15,"v":0},{"r":94,"c":16,"v":-3},
{"r":95,"c":1,"v":-5},{"r":95,"c":2,"v":-10},{"r":95,"c":3,"v":-3},{"r":95,"c":4,"v":5},{"r":95,"c":5,"v":-6},{"r":95,"c":6,"v":-4},{"r":95,"c":7,"v":-5},{"r":95,"c":8,"v":-4},{"r":95,"c":9,"v":-3},{"r":95,"c":10,"v":-3},{"r":95,"c":11,"v":-6},{"r":95,"c":12,"v":-9},{"r":95,"c":13,"v":1},{"r":95,"c":14,"v":-1},{"r":95,"c":15,"v":4},{"r":95,"c":16,"v":0},
{"r":96,"c":1,"v":-7},{"r":96,"c":2,"v":-10},{"r":96,"c":3,"v":-5},{"r":96,"c":4,"v":-1},{"r":96,"c":5,"v":-2},{"r":96,"c":6,"v":-6},{"r":96,"c":7,"v":-5},{"r":96,"c":8,"v":-6},{"r":96,"c":9,"v":-8},{"r":96,"c":10,"v":-5},{"r":96,"c":11,"v":-9},{"r":96,"c":12,"v":-8},{"r":96,"c":13,"v":4},{"r":96,"c":14,"v":-4},{"r":96,"c":15,"v":1},{"r":96,"c":16,"v":-1},
{"r":97,"c":1,"v":0},{"r":97,"c":2,"v":-10},{"r":97,"c":3,"v":-9},{"r":97,"c":4,"v":3},{"r":97,"c":5,"v":3},{"r":97,"c":6,"v":-3},{"r":97,"c":7,"v":-7},{"r":97,"c":8,"v":-4},{"r":97,"c":9,"v":-3},{"r":97,"c":10,"v":-10},{"r":97,"c":11,"v":-7},{"r":97,"c":12,"v":-4},{"r":97,"c":13,"v":1},{"r":97,"c":14,"v":-2},{"r":97,"c":15,"v":-2},{"r":97,"c":16,"v":-1},
{"r":98,"c":1,"v":-12},{"r":98,"c":2,"v":-12},{"r":98,"c":3,"v":-4},{"r":98,"c":4,"v":-5},{"r":98,"c":5,"v":2},{"r":98,"c":6,"v":-9},{"r":98,"c":7,"v":-5},{"r":98,"c":8,"v":-6},{"r":98,"c":9,"v":-4},{"r":98,"c":10,"v":-6},{"r":98,"c":11,"v":-8},{"r":98,"c":12,"v":-2},{"r":98,"c":13,"v":2},{"r":98,"c":14,"v":10},{"r":98,"c":15,"v":5},{"r":98,"c":16,"v":0},
{"r":99,"c":1,"v":-12},{"r":99,"c":2,"v":-12},{"r":99,"c":3,"v":-4},{"r":99,"c":4,"v":-9},{"r":99,"c":5,"v":-5},{"r":99,"c":6,"v":-5},{"r":99,"c":7,"v":-9},{"r":99,"c":8,"v":-8},{"r":99,"c":9,"v":-9},{"r":99,"c":10,"v":-6},{"r":99,"c":11,"v":-12},{"r":99,"c":12,"v":-10},{"r":99,"c":13,"v":4},{"r":99,"c":14,"v":2},{"r":99,"c":15,"v":-1},{"r":99,"c":16,"v":-4},
{"r":100,"c":1,"v":-12},{"r":100,"c":2,"v":-12},{"r":100,"c":3,"v":1},{"r":100,"c":4,"v":-8},{"r":100,"c":5,"v":0},{"r":100,"c":6,"v":-7},{"r":100,"c":7,"v":-7},{"r":100,"c":8,"v":0},{"r":100,"c":9,"v":-9},{"r":100,"c":10,"v":-8},{"r":100,"c":11,"v":-3},{"r":100,"c":12,"v":-1},{"r":100,"c":13,"v":1},{"r":100,"c":14,"v":-4},{"r":100,"c":15,"v":-9},{"r":100,"c":16,"v":1},
{"r":101,"c":1,"v":-11},{"r":101,"c":2,"v":0},{"r":101,"c":3,"v":30},{"r":101,"c":4,"v":-11},{"r":101,"c":5,"v":10},{"r":101,"c":6,"v":-5},{"r":101,"c":7,"v":-5},{"r":101,"c":8,"v":-1},{"r":101,"c":9,"v":5},{"r":101,"c":10,"v":30},{"r":101,"c":11,"v":-4},{"r":101,"c":12,"v":4},{"r":101,"c":13,"v":4},{"r":101,"c":14,"v":-7},{"r":101,"c":15,"v":10},{"r":101,"c":16,"v":-7},
{"r":102,"c":1,"v":-4},{"r":102,"c":2,"v":-9},{"r":102,"c":3,"v":30},{"r":102,"c":4,"v":3},{"r":102,"c":5,"v":30},{"r":102,"c":6,"v":-6},{"r":102,"c":7,"v":1},{"r":102,"c":8,"v":30},{"r":102,"c":9,"v":10},{"r":102,"c":10,"v":-1},{"r":102,"c":11,"v":30},{"r":102,"c":12,"v":10},{"r":102,"c":13,"v":4},{"r":102,"c":14,"v":1},{"r":102,"c":15,"v":3},{"r":102,"c":16,"v":-1},
{"r":103,"c":1,"v":30},{"r":103,"c":2,"v":1},{"r":103,"c":3,"v":-11},{"r":103,"c":4,"v":-2},{"r":103,"c":5,"v":0},{"r":103,"c":6,"v":-10},{"r":103,"c":7,"v":-12},{"r":103,"c":8,"v":1},{"r":103,"c":9,"v":-11},{"r":103,"c":10,"v":-3},{"r":103,"c":11,"v":5},{"r":103,"c":12,"v":-4},{"r":103,"c":13,"v":10},{"r":103,"c":14,"v":0},{"r":103,"c":15,"v":7},{"r":103,"c":16,"v":4},
{"r":104,"c":1,"v":30},{"r":104,"c":2,"v":30},{"r":104,"c":3,"v":3},{"r":104,"c":4,"v":4},{"r":104,"c":5,"v":-11},{"r":104,"c":6,"v":5},{"r":104,"c":7,"v":-4},{"r":104,"c":8,"v":-5},{"r":104,"c":9,"v":-5},{"r":104,"c":10,"v":1},{"r":104,"c":11,"v":-5},{"r":104,"c":12,"v":-11},{"r":104,"c":13,"v":-2},{"r":104,"c":14,"v":10},{"r":104,"c":15,"v":5},{"r":104,"c":16,"v":-8}
],
"time":[
{"r":1,"h":8,"v":30},{"r":1,"h":24,"v":30},{"r":2,"h":8,"v":10},{"r":2,"h":24,"v":30},{"r":3,"h":8,"v":2},{"r":3,"h":24,"v":0},{"r":4,"h":8,"v":2},{"r":4,"h":24,"v":-2},{"r":5,"h":8,"v":-10},{"r":5,"h":24,"v":2},{"r":6,"h":8,"v":1},{"r":6,"h":24,"v":4},{"r":7,"h":8,"v":-4},{"r":7,"h":24,"v":-3},{"r":8,"h":8,"v":2},{"r":8,"h":24,"v":5},{"r":9,"h":8,"v":5},{"r":9,"h":24,"v":7},{"r":10,"h":8,"v":3},{"r":10,"h":24,"v":5},
{"r":11,"h":8,"v":-1},{"r":11,"h":24,"v":-5},{"r":12,"h":8,"v":0},{"r":12,"h":24,"v":2},{"r":13,"h":8,"v":-1},{"r":13,"h":24,"v":3},{"r":14,"h":8,"v":2},{"r":14,"h":24,"v":4},{"r":15,"h":8,"v":2},{"r":15,"h":24,"v":5},{"r":16,"h":8,"v":0},{"r":16,"h":24,"v":1},{"r":17,"h":8,"v":1},{"r":17,"h":24,"v":5},{"r":18,"h":8,"v":1},{"r":18,"h":24,"v":3},{"r":19,"h":8,"v":2},{"r":19,"h":24,"v":5},{"r":20,"h":8,"v":-2},{"r":20,"h":24,"v":-4},
{"r":21,"h":8,"v":-2},{"r":21,"h":24,"v":-5},{"r":22,"h":8,"v":-1},{"r":22,"h":24,"v":2},{"r":23,"h":8,"v":1},{"r":23,"h":24,"v":0},{"r":24,"h":8,"v":-1},{"r":24,"h":24,"v":-2},{"r":25,"h":8,"v":2},{"r":25,"h":24,"v":2},{"r":26,"h":8,"v":0},{"r":26,"h":24,"v":0},{"r":27,"h":8,"v":-3},{"r":27,"h":24,"v":-1},{"r":28,"h":8,"v":1},{"r":28,"h":24,"v":1},{"r":29,"h":8,"v":-4},{"r":29,"h":24,"v":-1},{"r":30,"h":8,"v":-4},{"r":30,"h":24,"v":-5},
{"r":31,"h":8,"v":-5},{"r":31,"h":24,"v":-7},{"r":32,"h":8,"v":4},{"r":32,"h":24,"v":-8},{"r":33,"h":8,"v":-4},{"r":33,"h":24,"v":-10},{"r":34,"h":8,"v":-4},{"r":34,"h":24,"v":3},{"r":35,"h":8,"v":-5},{"r":35,"h":24,"v":3},{"r":36,"h":8,"v":-4},{"r":36,"h":24,"v":-8},{"r":37,"h":8,"v":-3},{"r":37,"h":24,"v":-5},{"r":38,"h":8,"v":3},{"r":38,"h":24,"v":-3},{"r":39,"h":8,"v":10},{"r":39,"h":24,"v":7},{"r":40,"h":8,"v":5},{"r":40,"h":24,"v":10},
{"r":41,"h":8,"v":1},{"r":41,"h":24,"v":7},{"r":42,"h":8,"v":3},{"r":42,"h":24,"v":7},{"r":43,"h":8,"v":0},{"r":43,"h":24,"v":7},{"r":44,"h":8,"v":-1},{"r":44,"h":24,"v":7},{"r":45,"h":8,"v":-3},{"r":45,"h":24,"v":1},{"r":46,"h":8,"v":3},{"r":46,"h":24,"v":5},{"r":47,"h":8,"v":-2},{"r":47,"h":24,"v":2},{"r":48,"h":8,"v":-11},{"r":48,"h":24,"v":4},{"r":49,"h":8,"v":-11},{"r":49,"h":24,"v":1},{"r":50,"h":8,"v":2},{"r":50,"h":24,"v":10},
{"r":51,"h":8,"v":4},{"r":51,"h":24,"v":30},{"r":52,"h":8,"v":-5},{"r":52,"h":24,"v":30},{"r":53,"h":8,"v":30},{"r":53,"h":24,"v":5},{"r":54,"h":8,"v":4},{"r":54,"h":24,"v":10},{"r":55,"h":8,"v":-1},{"r":55,"h":24,"v":4},{"r":56,"h":8,"v":-3},{"r":56,"h":24,"v":-7},{"r":57,"h":8,"v":-3},{"r":57,"h":24,"v":-6},{"r":58,"h":8,"v":-2},{"r":58,"h":24,"v":-7},{"r":59,"h":8,"v":-3},{"r":59,"h":24,"v":-6},{"r":60,"h":8,"v":-3},{"r":60,"h":24,"v":-10},
{"r":61,"h":8,"v":-5},{"r":61,"h":24,"v":-11},{"r":62,"h":8,"v":-4},{"r":62,"h":24,"v":-10},{"r":63,"h":8,"v":-4},{"r":63,"h":24,"v":-10},{"r":64,"h":8,"v":-5},{"r":64,"h":24,"v":-7},{"r":65,"h":8,"v":-5},{"r":65,"h":24,"v":-7},{"r":66,"h":8,"v":0},{"r":66,"h":24,"v":-9},{"r":67,"h":8,"v":-8},{"r":67,"h":24,"v":-10},{"r":68,"h":8,"v":-6},{"r":68,"h":24,"v":-11},{"r":69,"h":8,"v":-8},{"r":69,"h":24,"v":-9},{"r":70,"h":8,"v":-5},{"r":70,"h":24,"v":-10},
{"r":71,"h":8,"v":-8},{"r":71,"h":24,"v":-3},{"r":72,"h":8,"v":-3},{"r":72,"h":24,"v":-8},{"r":73,"h":8,"v":-7},{"r":73,"h":24,"v":-9},{"r":74,"h":8,"v":-1},{"r":74,"h":24,"v":-6},{"r":75,"h":8,"v":-10},{"r":75,"h":24,"v":-9},{"r":76,"h":8,"v":-10},{"r":76,"h":24,"v":-8},{"r":77,"h":8,"v":2},{"r":77,"h":24,"v":-9},{"r":78,"h":8,"v":-6},{"r":78,"h":24,"v":-8},{"r":79,"h":8,"v":3},{"r":79,"h":24,"v":0},{"r":80,"h":8,"v":-2},{"r":80,"h":24,"v":-8},
{"r":81,"h":8,"v":-1},{"r":81,"h":24,"v":-8},{"r":82,"h":8,"v":-8},{"r":82,"h":24,"v":1},{"r":83,"h":8,"v":-4},{"r":83,"h":24,"v":-6},{"r":84,"h":8,"v":-5},{"r":84,"h":24,"v":-1},{"r":85,"h":8,"v":-5},{"r":85,"h":24,"v":0},{"r":86,"h":8,"v":-4},{"r":86,"h":24,"v":-6},{"r":87,"h":8,"v":-3},{"r":87,"h":24,"v":-3},{"r":88,"h":8,"v":-3},{"r":88,"h":24,"v":-4},{"r":89,"h":8,"v":1},{"r":89,"h":24,"v":-8},{"r":90,"h":8,"v":-1},{"r":90,"h":24,"v":-1},
{"r":91,"h":8,"v":-6},{"r":91,"h":24,"v":-2},{"r":92,"h":8,"v":4},{"r":92,"h":24,"v":5},{"r":93,"h":8,"v":-4},{"r":93,"h":24,"v":4},{"r":94,"h":8,"v":1},{"r":94,"h":24,"v":-2},{"r":95,"h":8,"v":0},{"r":95,"h":24,"v":-5},{"r":96,"h":8,"v":0},{"r":96,"h":24,"v":-7},{"r":97,"h":8,"v":7},{"r":97,"h":24,"v":1},{"r":98,"h":8,"v":-9},{"r":98,"h":24,"v":-11},{"r":99,"h":8,"v":-8},{"r":99,"h":24,"v":-11},{"r":100,"h":8,"v":-6},{"r":100,"h":24,"v":-11},
{"r":101,"h":8,"v":-2},{"r":101,"h":24,"v":-11},{"r":102,"h":8,"v":-5},{"r":102,"h":24,"v":-4},{"r":103,"h":8,"v":30},{"r":103,"h":24,"v":30},{"r":104,"h":8,"v":30},{"r":104,"h":24,"v":30}
],
"genes":[{"r":1,"g":"ATP6V0A4","k":"o"},{"r":2,"g":"ATP6V1B1","k":"o"},{"r":3,"g":"ATP6V1C1","k":"o"},{"r":4,"g":"NDUFA5","k":"I"},{"r":5,"g":"ATP12A","k":"o"},{"r":6,"g":"ATP6V0A1","k":"o"},{"r":7,"g":"NDUFA4L2","k":"o"},{"r":8,"g":"ATP6V1D","k":"o"},{"r":9,"g":"ATP6V1H","k":"o"},{"r":10,"g":"ATP6V1E2","k":"o"},{"r":11,"g":"COX6C","k":"IV"},{"r":12,"g":"UQCRB","k":"III"},{"r":13,"g":"ATP6V1E1","k":"o"},{"r":14,"g":"ATP6V1F","k":"o"},{"r":15,"g":"COX7A2","k":"o"},{"r":16,"g":"ATP6V0B","k":"o"},{"r":17,"g":"COX7B2","k":"o"},{"r":18,"g":"NDUFB3","k":"I"},{"r":19,"g":"NDUFB1","k":"I"},{"r":20,"g":"NDUFB4","k":"I"},{"r":21,"g":"COX7A2L","k":"o"},{"r":22,"g":"ATP6V1G1","k":"o"},{"r":23,"g":"NDUFA7","k":"I"},{"r":24,"g":"PPA2","k":"o"},{"r":25,"g":"NDUFB5","k":"I"},{"r":26,"g":"COX7C","k":"IV"},{"r":27,"g":"ATP6V1B2","k":"o"},{"r":28,"g":"SDHC","k":"II"},{"r":29,"g":"UQCR11","k":"III"},{"r":30,"g":"COX5A","k":"IV"},{"r":31,"g":"COX11","k":"o"},{"r":32,"g":"SDHD","k":"II"},{"r":33,"g":"PPA1","k":"o"},{"r":34,"g":"ND5","k":"I","m":1},{"r":35,"g":"ND4L","k":"I","m":1},{"r":36,"g":"ND2","k":"I","m":1},{"r":37,"g":"ND1","k":"I","m":1},{"r":38,"g":"NDUFV2","k":"I"},{"r":39,"g":"COX15","k":"o"},{"r":40,"g":"ATP6V0E1","k":"o"},{"r":41,"g":"COX2","k":"IV","m":1},{"r":42,"g":"COX1","k":"IV","m":1},{"r":43,"g":"ATP6","k":"V","m":1},{"r":44,"g":"ND4","k":"I","m":1},{"r":45,"g":"CYTB","k":"III","m":1},{"r":46,"g":"COX3","k":"IV","m":1},{"r":47,"g":"ND3","k":"I","m":1},{"r":48,"g":"ATP8","k":"V","m":1},{"r":49,"g":"ATP6V0C","k":"o"},{"r":50,"g":"NDUFA2","k":"I"},{"r":51,"g":"ATP6V1A","k":"o"},{"r":52,"g":"LHPP","k":"o"},{"r":53,"g":"UQCRC2","k":"III"},{"r":54,"g":"NDUFC2","k":"I"},{"r":55,"g":"ATP6V0E2","k":"o"},{"r":56,"g":"COX6B1","k":"IV"},{"r":57,"g":"NDUFC1","k":"I"},{"r":58,"g":"COX4I1","k":"IV"},{"r":59,"g":"NDUFB9","k":"I"},{"r":60,"g":"NDUFA10","k":"I"},{"r":61,"g":"NDUFS5","k":"I"},{"r":62,"g":"UQCRH","k":"III"},{"r":63,"g":"SDHB","k":"II"},{"r":64,"g":"UQCR10","k":"o"},{"r":65,"g":"NDUFV3","k":"o"},{"r":66,"g":"UQCRFS1","k":"III"},{"r":67,"g":"NDUFS6","k":"I"},{"r":68,"g":"ATP6V0A2","k":"o"},{"r":69,"g":"NDUFB7","k":"I"},{"r":70,"g":"NDUFB2","k":"I"},{"r":71,"g":"COX8A","k":"IV"},{"r":72,"g":"NDUFB10","k":"I"},{"r":73,"g":"NDUFS8","k":"I"},{"r":74,"g":"NDUFS3","k":"I"},{"r":75,"g":"NDUFA11","k":"I"},{"r":76,"g":"UQCRHL","k":"I"},{"r":77,"g":"NDUFA9","k":"I"},{"r":78,"g":"COX6A1","k":"IV"},{"r":79,"g":"NDUFS1","k":"I"},{"r":80,"g":"NDUFS4","k":"I"},{"r":81,"g":"COX10","k":"o"},{"r":82,"g":"NDUFB8","k":"I"},{"r":83,"g":"NDUFB6","k":"I"},{"r":84,"g":"NDUFA1","k":"I"},{"r":85,"g":"COX5B","k":"IV"},{"r":86,"g":"COX7B","k":"IV"},{"r":87,"g":"NDUFA4","k":"I"},{"r":88,"g":"NDUFA3","k":"I"},{"r":89,"g":"NDUFA8","k":"I"},{"r":90,"g":"COX17","k":"o"},{"r":91,"g":"NDUFS7","k":"o"},{"r":92,"g":"ATP6V0D1","k":"o"},{"r":93,"g":"ATP6AP1","k":"o"},{"r":94,"g":"NDUFS2","k":"I"},{"r":95,"g":"NDUFV1","k":"o"},{"r":96,"g":"UQCRC1","k":"III"},{"r":97,"g":"SDHA","k":"II"},{"r":98,"g":"NDUFAB1","k":"I"},{"r":99,"g":"CYC1","k":"III"},{"r":100,"g":"NDUFA6","k":"I"},{"r":101,"g":"ND6","k":"I","m":1},{"r":102,"g":"UQCRQ","k":"o"},{"r":103,"g":"TCIRG1","k":"o"},{"r":104,"g":"ATP6V1C2","k":"o"}],
"lines":[{"c":1,"n":"HCC-1599","s":"1.00","k":"R"},{"c":2,"n":"SK-BR-3","s":"0.99","k":"S"},{"c":3,"n":"HCC-1500","s":"0.66","k":"S"},{"c":4,"n":"CAMA1","s":"0.66","k":"S"},{"c":5,"n":"MDA-MB-361","s":"0.58","k":"S"},{"c":6,"n":"MB-157","s":"0.28","k":"R"},{"c":7,"n":"MDA-MB-157","s":"0.25","k":"R"},{"c":8,"n":"HCC-202","s":"0.24","k":"S"},{"c":9,"n":"MDA-MB-175VII","s":"0.19","k":"S"},{"c":10,"n":"HS578T","s":"0.19","k":"R"},{"c":11,"n":"ZR75.1","s":"0.14","k":"S"},{"c":12,"n":"HCC-1419","s":"0.09","k":"S"},{"c":13,"n":"MDA-MB-231","s":"0.01","k":"R"},{"c":14,"n":"CAL-851","s":"0.00","k":"R"},{"c":15,"n":"HCC-1187","s":"0.00","k":"R"},{"c":16,"n":"MDA-MB-436","s":"0.00","k":"R"}],
"bars":[{"n":"“MYC Targets Merged”","v":220},{"n":"“E2F Targets”","v":137},{"n":"“Oxidative Phosphorylation”","v":68.5},{"n":"“G2M Checkpoint”","v":64}],
"ticks":[{"t":0},{"t":50},{"t":100},{"t":150},{"t":220}],
"scale":[{"a":-1.34,"b":-1,"v":-12},{"a":-1,"b":-0.7,"v":-10},{"a":-0.7,"b":-0.37,"v":-8},{"a":-0.37,"b":-0.25,"v":-5},{"a":-0.25,"b":-0.15,"v":-3},{"a":-0.15,"b":0.08,"v":1},{"a":0.08,"b":0.3,"v":4},{"a":0.3,"b":0.6,"v":7},{"a":0.6,"b":1.5,"v":10},{"a":1.5,"b":3.5,"v":30}],
"scaleTicks":[{"t":-1},{"t":0},{"t":1},{"t":2},{"t":3}]
},
"layer":[
{"layer":[
{"mark":{"type":"rect","fill":"transparent","stroke":"#111","strokeWidth":3},"encoding":{"x":{"datum":-7.615,"scale":{"domain":[0.5,16.5],"range":[462,1367],"nice":false,"zero":false}},"x2":{"datum":24.598},"y":{"datum":-9.53,"scale":{"domain":[0.5,104.5],"range":[192,2162],"nice":false,"zero":false}},"y2":{"datum":121.24}}},
{"mark":{"type":"rule","stroke":"#111","strokeWidth":3},"encoding":{"x":{"datum":-0.525},"y":{"datum":-9.53},"y2":{"datum":121.24}}},
{"mark":{"type":"text","text":"A","fontSize":38,"fontWeight":"bold","align":"left","baseline":"alphabetic"},"encoding":{"x":{"datum":-7.226},"y":{"datum":-6.469}}},
{"mark":{"type":"text","text":"B","fontSize":38,"fontWeight":"bold","align":"left","baseline":"alphabetic"},"encoding":{"x":{"datum":-0.154},"y":{"datum":-6.469}}},
{"mark":{"type":"text","text":"ATRA-score","fontSize":46,"fontWeight":"bold","fontStyle":"italic","baseline":"alphabetic","color":"#1a1a1a"},"encoding":{"x":{"datum":8.509},"y":{"datum":-5.307}}},
{"mark":{"type":"rule","stroke":"#222","strokeWidth":1.5},"encoding":{"x":{"datum":0.5},"x2":{"datum":16.465},"y":{"datum":-4.621}}},
{"mark":{"type":"rule","stroke":"#222","strokeWidth":1.5},"encoding":{"x":{"datum":0.5},"y":{"datum":-4.621},"y2":{"datum":-3.829}}},
{"mark":{"type":"rule","stroke":"#222","strokeWidth":1.5},"encoding":{"x":{"datum":16.465},"y":{"datum":-4.621},"y2":{"datum":-3.829}}},
{"mark":{"type":"text","text":"∗∗","font":"DejaVu Sans","fontSize":25,"color":"#333"},"encoding":{"x":{"datum":-5.016},"y":{"datum":7.416}}},
{"mark":{"type":"text","text":"p<0.001","fontSize":36,"align":"left","color":"#333"},"encoding":{"x":{"datum":-4.344},"y":{"datum":7.416}}},
{"mark":{"type":"text","text":"-10xlog₁₀(FDR)","fontSize":34,"fontWeight":"bold","angle":270,"color":"#111"},"encoding":{"x":{"datum":-6.89},"y":{"datum":40.09}}},
{"mark":{"type":"text","text":"Time (hours)","fontSize":22.6,"fontWeight":"bold","fontStyle":"italic","baseline":"alphabetic","color":"#111"},"encoding":{"x":{"datum":21.29},"y":{"datum":-1.77}}},
{"mark":{"type":"text","text":"8","fontSize":23,"fontWeight":"bold","fontStyle":"italic","baseline":"alphabetic","color":"#111"},"encoding":{"x":{"datum":20.71},"y":{"datum":-0.08}}},
{"mark":{"type":"text","text":"24","fontSize":23,"fontWeight":"bold","fontStyle":"italic","baseline":"alphabetic","color":"#111"},"encoding":{"x":{"datum":21.63},"y":{"datum":-0.08}}},
{"mark":{"type":"text","text":"HCC-1599","fontSize":33,"fontWeight":"bold","fontStyle":"italic","angle":90,"align":"left","color":"#0a6ebd"},"encoding":{"x":{"datum":21.28},"y":{"datum":105.9}}},
{"mark":{"type":"text","text":"Complex I","fontSize":31,"fontWeight":"bold","fontStyle":"italic","angle":90,"align":"left","color":"#be1e2d"},"encoding":{"x":{"datum":19.08},"y":{"datum":20.14}}},
{"mark":{"type":"text","text":"-","fontSize":31,"fontWeight":"bold","angle":90,"color":"#111"},"encoding":{"x":{"datum":19.08},"y":{"datum":28.48}}},
{"mark":{"type":"text","text":"Complex II","fontSize":31,"fontWeight":"bold","fontStyle":"italic","angle":90,"align":"left","color":"#00a651"},"encoding":{"x":{"datum":19.08},"y":{"datum":29.32}}},
{"mark":{"type":"text","text":"-","fontSize":31,"fontWeight":"bold","angle":90,"color":"#111"},"encoding":{"x":{"datum":19.08},"y":{"datum":37.98}}},
{"mark":{"type":"text","text":"Complex III","fontSize":31,"fontWeight":"bold","fontStyle":"italic","angle":90,"align":"left","color":"#0072bc"},"encoding":{"x":{"datum":19.08},"y":{"datum":38.83}}},
{"mark":{"type":"text","text":"-","fontSize":31,"fontWeight":"bold","angle":90,"color":"#111"},"encoding":{"x":{"datum":19.08},"y":{"datum":48.01}}},
{"mark":{"type":"text","text":"Complex IV","fontSize":31,"fontWeight":"bold","fontStyle":"italic","angle":90,"align":"left","color":"#f7941d"},"encoding":{"x":{"datum":19.08},"y":{"datum":48.8}}},
{"mark":{"type":"text","text":"-","fontSize":31,"fontWeight":"bold","angle":90,"color":"#111"},"encoding":{"x":{"datum":19.08},"y":{"datum":58.2}}},
{"mark":{"type":"text","text":"Complex V","fontSize":31,"fontWeight":"bold","fontStyle":"italic","angle":90,"align":"left","color":"#662d91"},"encoding":{"x":{"datum":19.08},"y":{"datum":59.1}}},
{"mark":{"type":"text","text":"Mitochondrial genes","fontSize":30,"fontWeight":"bold","fontStyle":"italic","angle":90,"align":"left","color":"#111"},"encoding":{"x":{"datum":19.08},"y":{"datum":73.25}}},
{"mark":{"type":"point","filled":true,"opacity":1,"size":95,"color":"#be1e2d"},"encoding":{"x":{"datum":18.84},"y":{"datum":70.2}}},
{"mark":{"type":"point","filled":true,"opacity":1,"size":95,"color":"#00a651"},"encoding":{"x":{"datum":19.07},"y":{"datum":70.2}}},
{"mark":{"type":"point","filled":true,"opacity":1,"size":95,"color":"#0072bc"},"encoding":{"x":{"datum":18.84},"y":{"datum":71.1}}},
{"mark":{"type":"point","filled":true,"opacity":1,"size":95,"color":"#f7941d"},"encoding":{"x":{"datum":19.07},"y":{"datum":71.1}}},
{"mark":{"type":"point","filled":true,"opacity":1,"size":95,"color":"#662d91"},"encoding":{"x":{"datum":18.84},"y":{"datum":72.05}}},
{"mark":{"type":"rule","stroke":"#1a1a1a","strokeWidth":4.5},"encoding":{"x":{"datum":0.058},"y":{"datum":55.56},"y2":{"datum":102.6}}},
{"mark":{"type":"rule","stroke":"#1a1a1a","strokeWidth":4.5},"encoding":{"x":{"datum":0.058},"x2":{"datum":0.306},"y":{"datum":55.56}}},
{"mark":{"type":"rule","stroke":"#1a1a1a","strokeWidth":4.5},"encoding":{"x":{"datum":0.058},"x2":{"datum":0.306},"y":{"datum":102.6}}},
{"mark":{"type":"rule","stroke":"#1a1a1a","strokeWidth":4.5},"encoding":{"x":{"datum":19.86},"y":{"datum":55.56},"y2":{"datum":102.6}}},
{"mark":{"type":"rule","stroke":"#1a1a1a","strokeWidth":4.5},"encoding":{"x":{"datum":19.86},"x2":{"datum":20.107},"y":{"datum":55.56}}},
{"mark":{"type":"rule","stroke":"#1a1a1a","strokeWidth":4.5},"encoding":{"x":{"datum":19.86},"x2":{"datum":20.107},"y":{"datum":102.6}}},
{"data":{"name":"genes"},"mark":{"type":"text","fontSize":15.5,"fontWeight":"bold","align":"right"},"encoding":{"x":{"datum":18.144},"y":{"field":"r","type":"quantitative"},"text":{"field":"g"},"color":{"field":"k","scale":{"domain":["I","II","III","IV","V","o","S","R"],"range":["#be1e2d","#006838","#0f6fbe","#f9a332","#662d91","#111111","#ed1c24","#0a6ebd"]}}}},
{"data":{"name":"genes"},"mark":{"type":"text","fontSize":15.5,"fontWeight":"bold","align":"right"},"encoding":{"x":{"datum":23.926},"y":{"field":"r","type":"quantitative"},"text":{"field":"g"},"color":{"field":"k"}}},
{"data":{"name":"genes"},"transform":[{"filter":"datum.m==1"}],"mark":{"type":"point","filled":true,"opacity":1,"size":95},"encoding":{"x":{"datum":18.339},"y":{"field":"r","type":"quantitative"},"color":{"field":"k"}}},
{"data":{"name":"genes"},"transform":[{"filter":"datum.m==1"}],"mark":{"type":"point","filled":true,"opacity":1,"size":95},"encoding":{"x":{"datum":24.12},"y":{"field":"r","type":"quantitative"},"color":{"field":"k"}}},
{"data":{"name":"lines"},"mark":{"type":"text","fontSize":26,"fontWeight":"bold","angle":270,"align":"left"},"encoding":{"x":{"field":"c","type":"quantitative"},"y":{"datum":-0.186},"text":{"field":"s"},"color":{"field":"k"}}},
{"data":{"name":"lines"},"mark":{"type":"text","fontSize":33,"fontWeight":"bold","fontStyle":"italic","angle":90,"align":"left"},"encoding":{"x":{"field":"c","type":"quantitative"},"y":{"datum":105.9},"text":{"field":"n"},"color":{"field":"k"}}}
]},
{"data":{"name":"heat"},"mark":{"type":"rect","stroke":"#222","strokeWidth":0.6,"strokeOpacity":0.45},"encoding":{"x":{"field":"c","type":"ordinal","scale":{"range":[462,1367],"paddingInner":0,"paddingOuter":0}},"y":{"field":"r","type":"ordinal","scale":{"range":[192,2162],"paddingInner":0,"paddingOuter":0}},"color":{"field":"v","type":"quantitative","scale":{"domain":[-12,-9,-7,-5,-4,-3,-2,-1,0,1,2,3,4,5,7,10,30],"range":["#4575b4","#5b8cc0","#6fa3cc","#85b7d6","#a5d0e4","#c6e6ef","#dff0ea","#eef5cf","#fbf7b5","#fde592","#fdc97e","#fdae6b","#f98e5c","#f4754f","#ec5a3f","#e34a36","#db3a30"]}}}},
{"data":{"name":"time"},"mark":{"type":"rect","stroke":"#222","strokeWidth":0.6,"strokeOpacity":0.45},"encoding":{"x":{"field":"h","type":"ordinal","scale":{"range":[1580,1693],"paddingInner":0,"paddingOuter":0}},"y":{"field":"r","type":"ordinal","scale":{"range":[192,2162],"paddingInner":0,"paddingOuter":0}},"color":{"field":"v","type":"quantitative","scale":{"domain":[-12,-9,-7,-5,-4,-3,-2,-1,0,1,2,3,4,5,7,10,30],"range":["#4575b4","#5b8cc0","#6fa3cc","#85b7d6","#a5d0e4","#c6e6ef","#dff0ea","#eef5cf","#fbf7b5","#fde592","#fdc97e","#fdae6b","#f98e5c","#f4754f","#ec5a3f","#e34a36","#db3a30"]}}}},
{"layer":[
{"data":{"name":"scale"},"mark":{"type":"rect"},"encoding":{"x":{"field":"a","type":"quantitative","scale":{"domain":[-1,3],"range":[1414,1566],"nice":false,"zero":false}},"x2":{"field":"b"},"y":{"datum":114.53,"scale":{"domain":[0.5,104.5],"range":[192,2162],"nice":false,"zero":false}},"y2":{"datum":115.21},"color":{"field":"v","type":"quantitative","scale":{"domain":[-12,-9,-7,-5,-4,-3,-2,-1,0,1,2,3,4,5,7,10,30],"range":["#4575b4","#5b8cc0","#6fa3cc","#85b7d6","#a5d0e4","#c6e6ef","#dff0ea","#eef5cf","#fbf7b5","#fde592","#fdc97e","#fdae6b","#f98e5c","#f4754f","#ec5a3f","#e34a36","#db3a30"]}}}},
{"data":{"name":"scaleTicks"},"mark":{"type":"rule","stroke":"#555","strokeWidth":1},"encoding":{"x":{"field":"t","type":"quantitative"},"y":{"datum":115.05},"y2":{"datum":115.4}}},
{"data":{"name":"scaleTicks"},"mark":{"type":"text","fontSize":20,"color":"#222"},"encoding":{"x":{"field":"t","type":"quantitative"},"y":{"datum":115.95},"text":{"field":"t"}}},
{"mark":{"type":"text","text":"ATRA/vehicle","fontSize":27,"color":"#222"},"encoding":{"x":{"datum":1.15},"y":{"datum":117.5}}},
{"mark":{"type":"text","text":"(Fold Change)","fontSize":27,"color":"#222"},"encoding":{"x":{"datum":1.15},"y":{"datum":119.65}}}
]},
{"data":{"name":"bars"},"layer":[
{"mark":{"type":"bar","color":"#00aeef","stroke":"#1a1a1a","strokeWidth":3},"encoding":{"x":{"field":"n","type":"nominal","sort":null,"scale":{"range":[198,371],"paddingInner":0.266,"paddingOuter":0}},"y":{"field":"v","type":"quantitative","scale":{"domain":[0,150,220],"range":[1491,605,447]}}}},
{"mark":{"type":"text","text":"∗∗","font":"DejaVu Sans","fontSize":25,"color":"#333","dy":-35,"dx":4},"encoding":{"x":{"field":"n","type":"nominal","sort":null},"y":{"field":"v","type":"quantitative"}}},
{"mark":{"type":"text","fontSize":35,"fontWeight":"bold","fontStyle":"italic","angle":90,"align":"left","color":"#1a1a1a"},"encoding":{"x":{"field":"n","type":"nominal","sort":null},"y":{"datum":-3.5},"text":{"field":"n"}}}
]},
{"layer":[
{"mark":{"type":"rule","stroke":"#1a1a1a","strokeWidth":3},"encoding":{"x":{"datum":-4.769,"scale":{"domain":[0.5,16.5],"range":[462,1367],"nice":false,"zero":false}},"y":{"datum":0,"scale":{"domain":[0,150,220],"range":[1491,605,447]}},"y2":{"datum":220}}},
{"mark":{"type":"rule","stroke":"#1a1a1a","strokeWidth":3},"encoding":{"x":{"datum":-5.034},"x2":{"datum":-0.826},"y":{"datum":0}}},
{"data":{"name":"ticks"},"mark":{"type":"rule","stroke":"#1a1a1a","strokeWidth":2},"encoding":{"x":{"datum":-5.034},"x2":{"datum":-4.769},"y":{"field":"t","type":"quantitative"}}},
{"data":{"name":"ticks"},"mark":{"type":"text","fontSize":37,"align":"right","color":"#333"},"encoding":{"x":{"datum":-5.193},"y":{"field":"t","type":"quantitative"},"text":{"field":"t"}}},
{"mark":{"type":"rule","stroke":"white","strokeWidth":6},"encoding":{"x":{"datum":-5.298},"x2":{"datum":-4.415},"y":{"datum":179},"y2":{"datum":165}}},
{"mark":{"type":"rule","stroke":"white","strokeWidth":6},"encoding":{"x":{"datum":-4.309},"x2":{"datum":-3.425},"y":{"datum":179},"y2":{"datum":165}}},
{"mark":{"type":"rule","stroke":"#1a1a1a","strokeWidth":2},"encoding":{"x":{"datum":-5.298},"x2":{"datum":-4.415},"y":{"datum":180},"y2":{"datum":166}}},
{"mark":{"type":"rule","stroke":"#1a1a1a","strokeWidth":2},"encoding":{"x":{"datum":-5.298},"x2":{"datum":-4.415},"y":{"datum":178},"y2":{"datum":164}}},
{"mark":{"type":"rule","stroke":"#1a1a1a","strokeWidth":2},"encoding":{"x":{"datum":-4.309},"x2":{"datum":-3.425},"y":{"datum":180},"y2":{"datum":166}}},
{"mark":{"type":"rule","stroke":"#1a1a1a","strokeWidth":2},"encoding":{"x":{"datum":-4.309},"x2":{"datum":-3.425},"y":{"datum":178},"y2":{"datum":164}}}
]}
]}
